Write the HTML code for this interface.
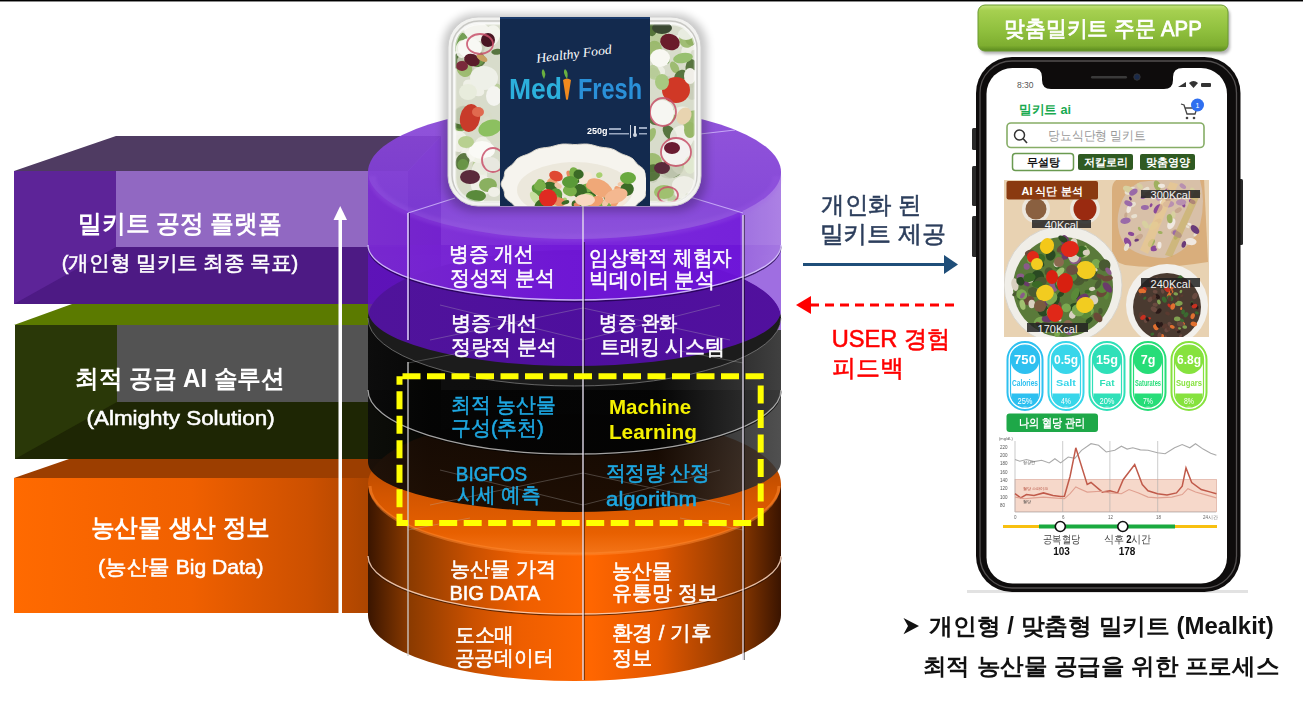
<!DOCTYPE html>
<html><head><meta charset="utf-8">
<style>
html,body{margin:0;padding:0;background:#fff;width:1303px;height:707px;overflow:hidden}
svg{display:block;font-family:"Liberation Sans",sans-serif}
</style></head>
<body>
<svg width="1303" height="707" viewBox="0 0 1303 707">
<defs>
<linearGradient id="orFront" x1="14" x2="408" y1="0" y2="0" gradientUnits="userSpaceOnUse"><stop offset="0" stop-color="#ff6a00"/><stop offset="0.45" stop-color="#f06000"/><stop offset="0.75" stop-color="#cc5000"/><stop offset="0.92" stop-color="#a84400"/><stop offset="1" stop-color="#9a3c00"/></linearGradient>
<linearGradient id="purWall" x1="368" x2="781" y1="0" y2="0" gradientUnits="userSpaceOnUse"><stop offset="0" stop-color="#7a2ad0"/><stop offset="0.45" stop-color="#7218d8"/><stop offset="0.9" stop-color="#6c12d8"/><stop offset="0.91" stop-color="#9a68de"/><stop offset="1" stop-color="#a678e2"/></linearGradient>
<linearGradient id="purWall2" x1="368" x2="781" y1="0" y2="0" gradientUnits="userSpaceOnUse"><stop offset="0" stop-color="#6410cc"/><stop offset="0.5" stop-color="#620ad0"/><stop offset="1" stop-color="#660cd0"/></linearGradient>
<linearGradient id="purTop" x1="0" x2="0" y1="105" y2="239" gradientUnits="userSpaceOnUse"><stop offset="0" stop-color="#8a48d8"/><stop offset="0.75" stop-color="#7e3cd6"/><stop offset="1" stop-color="#8646da"/></linearGradient>
<linearGradient id="blkWall" x1="368" x2="781" y1="0" y2="0" gradientUnits="userSpaceOnUse"><stop offset="0" stop-color="#0a0a0a"/><stop offset="0.15" stop-color="#040404"/><stop offset="0.7" stop-color="#030303"/><stop offset="0.86" stop-color="#202020"/><stop offset="1" stop-color="#383838"/></linearGradient>
<linearGradient id="orWall" x1="368" x2="781" y1="0" y2="0" gradientUnits="userSpaceOnUse"><stop offset="0" stop-color="#3a1500"/><stop offset="0.1" stop-color="#8a3a00"/><stop offset="0.25" stop-color="#c85000"/><stop offset="0.37" stop-color="#ee5e00"/><stop offset="0.54" stop-color="#ff6600"/><stop offset="0.7" stop-color="#e45800"/><stop offset="0.9" stop-color="#8a3800"/><stop offset="1" stop-color="#3a1400"/></linearGradient>
<linearGradient id="orTop" x1="0" x2="0" y1="414" y2="554" gradientUnits="userSpaceOnUse"><stop offset="0" stop-color="#8a3600"/><stop offset="0.55" stop-color="#d05400"/><stop offset="0.85" stop-color="#e86000"/><stop offset="1" stop-color="#f47418"/></linearGradient>
<linearGradient id="btnG" x1="0" x2="0" y1="0" y2="1"><stop offset="0" stop-color="#c4e47c"/><stop offset="0.12" stop-color="#a6d050"/><stop offset="0.55" stop-color="#90c03e"/><stop offset="0.88" stop-color="#7eae30"/><stop offset="1" stop-color="#5a8a1e"/></linearGradient>
<filter id="blur4" x="-20%" y="-20%" width="140%" height="140%"><feGaussianBlur stdDeviation="4"/></filter>
<filter id="blur1" x="-20%" y="-20%" width="140%" height="140%"><feGaussianBlur stdDeviation="0.7"/></filter>
<filter id="blur2" x="-20%" y="-20%" width="140%" height="140%"><feGaussianBlur stdDeviation="1.5"/></filter>
<clipPath id="trayClip"><rect x="455" y="24" width="240" height="178" rx="24"/></clipPath>
<clipPath id="bowlClip"><path d="M500,206 L500,178 A73,40 0 0 1 646,178 L646,206 Z"/></clipPath>
<clipPath id="foodClip"><rect x="1004" y="180" width="205" height="157"/></clipPath>
<clipPath id="screenClip"><rect x="986" y="68" width="241" height="516" rx="26"/></clipPath>
<clipPath id="lavClip"><path clip-rule="evenodd" d="M743,160 H782 V330 H743 Z M368,318 A206.5,68 0 1 0 781,318 A206.5,68 0 1 0 368,318 Z"/></clipPath>
</defs>
<rect x="0" y="0" width="1303" height="707" fill="#fff"/>
<rect x="0" y="0" width="1303" height="1" fill="#000"/>
<rect x="0" y="1" width="1303" height="1" fill="#8a8a8a"/>
<!-- ===== LEFT BOXES ===== -->
<!-- purple box -->
<polygon points="14,171 116,136 441,136 408,171" fill="#4f3b62"/>
<rect x="14" y="171" width="394" height="133" fill="#5d2498"/>
<rect x="116" y="171" width="292" height="76" fill="#9168c2"/>
<polygon points="14,304 116,247 408,247 408,304" fill="#4d1a84"/>
<polygon points="408,171 441,136 441,270 408,304" fill="#5a2290"/>
<!-- green box -->
<polygon points="14,325 72,304 441,304 408,325" fill="#5b7a00"/>
<rect x="15" y="325" width="393" height="134" fill="#2a3808"/>
<rect x="117" y="325" width="291" height="77" fill="#535353"/>
<polygon points="15,459 117,402 408,402 408,459" fill="#1e2604"/>
<polygon points="408,325 441,305 441,430 408,459" fill="#1e2200"/>
<!-- orange box -->
<polygon points="14,478 69,459 441,459 408,478" fill="#9c3e00"/>
<rect x="14" y="478" width="394" height="135" fill="url(#orFront)"/>
<polygon points="408,478 441,460 441,590 408,613" fill="#7a3000"/>
<!-- ===== CYLINDER ===== -->
<!-- orange cylinder -->
<path d="M368,484 V615 A206.5,66 0 0 0 781,615 V484 Z" fill="url(#orWall)"/>
<ellipse cx="574.5" cy="484" rx="206.5" ry="70" fill="url(#orTop)"/>
<path d="M370,486 A204.5,68 0 0 0 779,486" fill="none" stroke="#ff8a30" stroke-width="3" opacity="0.5" filter="url(#blur1)"/>
<path d="M368,556 A206.5,58 0 0 0 781,556" fill="none" stroke="#2a1000" stroke-width="1.3" opacity="0.7" transform="translate(0,1.2)"/>
<path d="M368,556 A206.5,58 0 0 0 781,556" fill="none" stroke="#ffd8c0" stroke-width="1.3" opacity="0.85"/>
<!-- black cylinder lower tier (translucent) -->
<path d="M368,390 V462 A206.5,50 0 0 0 781,462 V390 Z" fill="url(#blkWall)" opacity="0.88"/>
<!-- black upper tier -->
<path d="M368,318 V390 A206.5,64 0 0 0 781,390 V318 Z" fill="url(#blkWall)" opacity="0.96"/>
<ellipse cx="574.5" cy="318" rx="206.5" ry="68" fill="#1c1c1c"/>
<path d="M368,390 A206.5,64 0 0 0 781,390" fill="none" stroke="#000" stroke-width="1.3" opacity="0.7" transform="translate(0,1.2)"/>
<path d="M368,390 A206.5,64 0 0 0 781,390" fill="none" stroke="#bdbdbd" stroke-width="1.3" opacity="0.85"/>
<path d="M368,318 A206.5,68 0 0 0 781,318" fill="none" stroke="#9a9a9a" stroke-width="1" opacity="0.6"/>
<!-- purple cylinder lower tier (translucent) -->
<path d="M368,245 V310 A206.5,56 0 0 0 781,310 V245 Z" fill="url(#purWall2)" opacity="0.72"/>
<path d="M743,245 V330 H781 V245 Z" fill="#a070e0" clip-path="url(#lavClip)" opacity="0.95"/>
<!-- purple upper tier -->
<g opacity="0.93">
<path d="M368,172 V245 A206.5,55 0 0 0 781,245 V172 Z" fill="url(#purWall)"/>
<ellipse cx="574.5" cy="172" rx="206.5" ry="67" fill="url(#purTop)"/>
</g>
<path d="M372,176 A202.5,62 0 0 0 777,176" fill="none" stroke="#a060e8" stroke-width="8" opacity="0.22" filter="url(#blur2)"/>
<path d="M368,245 A206.5,55 0 0 0 781,245" fill="none" stroke="#1a0040" stroke-width="1.3" opacity="0.7" transform="translate(0,1.5)"/>
<path d="M368,245 A206.5,55 0 0 0 781,245" fill="none" stroke="#d8c4ff" stroke-width="1.3" opacity="0.9"/>
<!-- top-face spokes -->
<g stroke="#d8c4ff" stroke-width="1.2" fill="none" opacity="0.75">
<polyline points="408,213 455,198"/>
<polyline points="743,213 690,197"/>
<polyline points="700,134 735,130"/>
</g>
<g stroke="#bbb" stroke-width="1" fill="none" opacity="0.3">
<polyline points="408,363 480,349"/>
<polyline points="743,363 670,349"/>
<polyline points="440,305 583,340 720,305"/>
<polyline points="430,340 583,308 730,340"/>
<polyline points="408,530 470,518"/>
<polyline points="743,530 680,518"/>
<polyline points="440,470 583,505 720,470"/>
<polyline points="430,505 583,473 730,505"/>
</g>
<!-- vertical divider lines -->
<g stroke-width="1.6">
<line x1="409.2" y1="213" x2="409.2" y2="340" stroke="#1a0040" opacity="0.6"/>
<line x1="408" y1="213" x2="408" y2="340" stroke="#e8dcff" opacity="0.9"/>
<line x1="408" y1="362" x2="408" y2="656" stroke="#d0d0d0" opacity="0.8"/>
<line x1="584.2" y1="242" x2="584.2" y2="680" stroke="#000" opacity="0.45"/>
<line x1="583" y1="206" x2="583" y2="680" stroke="#e8e0f0" opacity="0.85"/>
<line x1="744.2" y1="215" x2="744.2" y2="660" stroke="#000" opacity="0.45"/>
<line x1="743" y1="215" x2="743" y2="660" stroke="#e8e0f0" opacity="0.8"/>
</g>
<!-- white arrow -->
<rect x="338.5" y="218" width="3.5" height="395" fill="#fff"/>
<polygon points="333.5,220 340.2,206 347,220" fill="#fff"/>
<!-- yellow dashed rect -->
<rect x="399.5" y="376.2" width="361.2" height="146.8" fill="none" stroke="#ffff00" stroke-width="6" stroke-dasharray="18,6.5" stroke-dashoffset="-3"/>
<!-- ===== MIDDLE ARROWS ===== -->
<line x1="803" y1="264.5" x2="946" y2="264.5" stroke="#1f4e79" stroke-width="3"/>
<polygon points="944,255 958,264.5 944,274" fill="#1f4e79"/>
<line x1="810" y1="305" x2="957" y2="305" stroke="#ff0000" stroke-width="3" stroke-dasharray="9,6"/>
<polygon points="811,296 796,305 811,314" fill="#ff0000"/>
<path d="M903.5,618 L919,626 L903.5,634.2 L908,626 Z" fill="#111"/>
<!-- ===== TRAY ===== -->
<rect x="443" y="14" width="264" height="198" rx="32" fill="#000" opacity="0.22" filter="url(#blur4)"/>
<rect x="448" y="17" width="253" height="189" rx="30" fill="#f2f2f0" stroke="#d0d0d0" stroke-width="1"/>
<rect x="452" y="21" width="245" height="181" rx="27" fill="none" stroke="#c8c8c4" stroke-width="1.5"/>
<g clip-path="url(#trayClip)">
<rect x="450" y="20" width="250" height="190" fill="#d8dccb"/>
<g filter="url(#blur1)">
<ellipse cx="469.6" cy="50.9" rx="5.5" ry="4.2" transform="rotate(66 469.6 50.9)" fill="#eef0e6" opacity="0.90" />
<ellipse cx="457.6" cy="114.3" rx="5.6" ry="4.0" transform="rotate(43 457.6 114.3)" fill="#eef0e6" opacity="0.90" />
<ellipse cx="479.8" cy="34.5" rx="11.6" ry="9.5" transform="rotate(105 479.8 34.5)" fill="#f6f6f0" opacity="0.90" />
<ellipse cx="457.8" cy="128.2" rx="11.8" ry="6.2" transform="rotate(155 457.8 128.2)" fill="#eef0e6" opacity="0.90" />
<ellipse cx="468.0" cy="49.7" rx="9.0" ry="7.0" transform="rotate(123 468.0 49.7)" fill="#f6f6f0" opacity="0.90" />
<ellipse cx="459.6" cy="125.7" rx="7.6" ry="5.9" transform="rotate(11 459.6 125.7)" fill="#b8cc98" opacity="0.90" />
<ellipse cx="457.7" cy="60.7" rx="8.0" ry="5.3" transform="rotate(105 457.7 60.7)" fill="#4a6a30" opacity="0.90" />
<ellipse cx="475.4" cy="77.4" rx="9.9" ry="6.2" transform="rotate(103 475.4 77.4)" fill="#d8dcc8" opacity="0.90" />
<ellipse cx="478.6" cy="179.8" rx="7.0" ry="6.9" transform="rotate(21 478.6 179.8)" fill="#c8ccb8" opacity="0.90" />
<ellipse cx="473.8" cy="158.8" rx="11.5" ry="8.2" transform="rotate(173 473.8 158.8)" fill="#d8dcc8" opacity="0.90" />
<ellipse cx="458.5" cy="123.3" rx="7.4" ry="5.0" transform="rotate(89 458.5 123.3)" fill="#6a9848" opacity="0.90" />
<ellipse cx="490.9" cy="36.2" rx="11.6" ry="8.6" transform="rotate(120 490.9 36.2)" fill="#f6f6f0" opacity="0.90" />
<ellipse cx="457.7" cy="148.9" rx="7.0" ry="4.8" transform="rotate(120 457.7 148.9)" fill="#c8ccb8" opacity="0.90" />
<ellipse cx="456.0" cy="106.2" rx="9.3" ry="6.9" transform="rotate(39 456.0 106.2)" fill="#d8dcc8" opacity="0.90" />
<ellipse cx="467.9" cy="155.4" rx="7.7" ry="7.2" transform="rotate(15 467.9 155.4)" fill="#f2f2ea" opacity="0.90" />
<ellipse cx="475.2" cy="121.8" rx="10.7" ry="10.0" transform="rotate(50 475.2 121.8)" fill="#d8dcc8" opacity="0.90" />
<ellipse cx="473.7" cy="87.9" rx="11.7" ry="6.7" transform="rotate(32 473.7 87.9)" fill="#f2f2ea" opacity="0.90" />
<ellipse cx="465.4" cy="65.5" rx="10.8" ry="6.4" transform="rotate(51 465.4 65.5)" fill="#c8ccb8" opacity="0.90" />
<ellipse cx="461.6" cy="119.2" rx="11.7" ry="9.9" transform="rotate(93 461.6 119.2)" fill="#6a9848" opacity="0.90" />
<ellipse cx="482.8" cy="144.4" rx="8.2" ry="7.7" transform="rotate(171 482.8 144.4)" fill="#eef0e6" opacity="0.90" />
<ellipse cx="485.6" cy="123.6" rx="7.8" ry="4.3" transform="rotate(114 485.6 123.6)" fill="#f2f2ea" opacity="0.90" />
<ellipse cx="457.8" cy="36.0" rx="8.1" ry="4.5" transform="rotate(108 457.8 36.0)" fill="#b8cc98" opacity="0.90" />
<ellipse cx="459.6" cy="124.9" rx="5.7" ry="3.9" transform="rotate(5 459.6 124.9)" fill="#4a6a30" opacity="0.90" />
<ellipse cx="494.3" cy="133.3" rx="9.4" ry="9.2" transform="rotate(108 494.3 133.3)" fill="#d8dcc8" opacity="0.90" />
<ellipse cx="476.3" cy="44.5" rx="12.0" ry="8.8" transform="rotate(87 476.3 44.5)" fill="#c8ccb8" opacity="0.90" />
<ellipse cx="458.9" cy="42.2" rx="10.2" ry="7.5" transform="rotate(125 458.9 42.2)" fill="#6a9848" opacity="0.90" />
<ellipse cx="478.2" cy="60.5" rx="7.5" ry="6.4" transform="rotate(165 478.2 60.5)" fill="#4a6a30" opacity="0.90" />
<ellipse cx="489.1" cy="77.1" rx="9.9" ry="6.2" transform="rotate(66 489.1 77.1)" fill="#f6f6f0" opacity="0.90" />
<ellipse cx="462.5" cy="161.4" rx="8.8" ry="6.6" transform="rotate(115 462.5 161.4)" fill="#4a6a30" opacity="0.90" />
<ellipse cx="482.6" cy="164.3" rx="10.6" ry="9.7" transform="rotate(133 482.6 164.3)" fill="#b8cc98" opacity="0.90" />
<ellipse cx="465.2" cy="116.1" rx="10.1" ry="10.1" transform="rotate(142 465.2 116.1)" fill="#6a9848" opacity="0.90" />
<ellipse cx="476.3" cy="58.5" rx="8.1" ry="7.9" transform="rotate(178 476.3 58.5)" fill="#6a9848" opacity="0.90" />
<ellipse cx="498.0" cy="88.9" rx="5.7" ry="4.2" transform="rotate(61 498.0 88.9)" fill="#b8cc98" opacity="0.90" />
<ellipse cx="476.7" cy="199.4" rx="8.4" ry="6.9" transform="rotate(144 476.7 199.4)" fill="#eef0e6" opacity="0.90" />
<ellipse cx="458.8" cy="141.6" rx="10.5" ry="9.2" transform="rotate(86 458.8 141.6)" fill="#f2f2ea" opacity="0.90" />
<ellipse cx="463.0" cy="164.5" rx="5.6" ry="5.5" transform="rotate(130 463.0 164.5)" fill="#6a9848" opacity="0.90" />
<ellipse cx="475.8" cy="156.3" rx="10.1" ry="5.9" transform="rotate(23 475.8 156.3)" fill="#f6f6f0" opacity="0.90" />
<ellipse cx="461.8" cy="185.1" rx="9.3" ry="7.4" transform="rotate(85 461.8 185.1)" fill="#d8dcc8" opacity="0.90" />
<ellipse cx="497.2" cy="51.8" rx="5.9" ry="3.0" transform="rotate(175 497.2 51.8)" fill="#4a6a30" opacity="0.90" />
<ellipse cx="484.2" cy="117.7" rx="8.0" ry="7.5" transform="rotate(149 484.2 117.7)" fill="#d8dcc8" opacity="0.90" />
<ellipse cx="464.5" cy="68.8" rx="8.5" ry="7.5" transform="rotate(59 464.5 68.8)" fill="#98b868" opacity="0.90" />
<ellipse cx="479.5" cy="172.5" rx="11.4" ry="7.7" transform="rotate(82 479.5 172.5)" fill="#eef0e6" opacity="0.90" />
<ellipse cx="481.3" cy="185.0" rx="10.8" ry="10.1" transform="rotate(24 481.3 185.0)" fill="#f2f2ea" opacity="0.90" />
<ellipse cx="461.8" cy="114.9" rx="10.4" ry="8.4" transform="rotate(140 461.8 114.9)" fill="#c8ccb8" opacity="0.90" />
<ellipse cx="461.7" cy="49.2" rx="8.9" ry="5.9" transform="rotate(93 461.7 49.2)" fill="#f6f6f0" opacity="0.90" />
<ellipse cx="675.0" cy="163.6" rx="11.2" ry="5.9" transform="rotate(34 675.0 163.6)" fill="#f6f6f0" opacity="0.90" />
<ellipse cx="651.9" cy="41.4" rx="8.9" ry="7.9" transform="rotate(164 651.9 41.4)" fill="#c8ccb8" opacity="0.90" />
<ellipse cx="669.9" cy="133.0" rx="9.2" ry="5.5" transform="rotate(50 669.9 133.0)" fill="#4a6a30" opacity="0.90" />
<ellipse cx="672.9" cy="167.7" rx="11.6" ry="9.8" transform="rotate(158 672.9 167.7)" fill="#4a6a30" opacity="0.90" />
<ellipse cx="692.4" cy="70.2" rx="11.2" ry="6.8" transform="rotate(81 692.4 70.2)" fill="#4a6a30" opacity="0.90" />
<ellipse cx="668.7" cy="93.8" rx="5.5" ry="3.4" transform="rotate(13 668.7 93.8)" fill="#6a9848" opacity="0.90" />
<ellipse cx="680.1" cy="163.5" rx="11.6" ry="9.5" transform="rotate(66 680.1 163.5)" fill="#d8dcc8" opacity="0.90" />
<ellipse cx="661.4" cy="48.4" rx="6.5" ry="6.4" transform="rotate(72 661.4 48.4)" fill="#c8ccb8" opacity="0.90" />
<ellipse cx="671.9" cy="200.2" rx="6.1" ry="4.4" transform="rotate(93 671.9 200.2)" fill="#b8cc98" opacity="0.90" />
<ellipse cx="665.3" cy="58.8" rx="5.6" ry="3.9" transform="rotate(61 665.3 58.8)" fill="#6a9848" opacity="0.90" />
<ellipse cx="670.6" cy="149.2" rx="7.3" ry="5.9" transform="rotate(92 670.6 149.2)" fill="#f2f2ea" opacity="0.90" />
<ellipse cx="652.9" cy="199.3" rx="11.8" ry="6.5" transform="rotate(48 652.9 199.3)" fill="#b8cc98" opacity="0.90" />
<ellipse cx="651.8" cy="162.7" rx="10.3" ry="9.4" transform="rotate(153 651.8 162.7)" fill="#98b868" opacity="0.90" />
<ellipse cx="680.4" cy="192.4" rx="6.0" ry="5.8" transform="rotate(103 680.4 192.4)" fill="#f2f2ea" opacity="0.90" />
<ellipse cx="681.5" cy="39.9" rx="10.6" ry="6.3" transform="rotate(161 681.5 39.9)" fill="#eef0e6" opacity="0.90" />
<ellipse cx="662.1" cy="27.0" rx="10.6" ry="5.8" transform="rotate(154 662.1 27.0)" fill="#f6f6f0" opacity="0.90" />
<ellipse cx="653.0" cy="177.6" rx="5.1" ry="5.1" transform="rotate(75 653.0 177.6)" fill="#c8ccb8" opacity="0.90" />
<ellipse cx="691.2" cy="134.7" rx="8.7" ry="5.4" transform="rotate(20 691.2 134.7)" fill="#eef0e6" opacity="0.90" />
<ellipse cx="657.3" cy="33.0" rx="11.5" ry="9.4" transform="rotate(96 657.3 33.0)" fill="#b8cc98" opacity="0.90" />
<ellipse cx="659.3" cy="103.3" rx="6.9" ry="6.2" transform="rotate(179 659.3 103.3)" fill="#d8dcc8" opacity="0.90" />
<ellipse cx="651.7" cy="27.3" rx="8.9" ry="5.3" transform="rotate(85 651.7 27.3)" fill="#4a6a30" opacity="0.90" />
<ellipse cx="692.1" cy="42.9" rx="9.6" ry="7.4" transform="rotate(160 692.1 42.9)" fill="#f2f2ea" opacity="0.90" />
<ellipse cx="693.7" cy="78.8" rx="11.9" ry="8.0" transform="rotate(150 693.7 78.8)" fill="#b8cc98" opacity="0.90" />
<ellipse cx="681.8" cy="137.2" rx="11.9" ry="11.8" transform="rotate(151 681.8 137.2)" fill="#f2f2ea" opacity="0.90" />
<ellipse cx="650.6" cy="135.3" rx="8.0" ry="4.2" transform="rotate(120 650.6 135.3)" fill="#98b868" opacity="0.90" />
<ellipse cx="667.1" cy="114.1" rx="9.2" ry="7.8" transform="rotate(8 667.1 114.1)" fill="#98b868" opacity="0.90" />
<ellipse cx="658.3" cy="71.9" rx="6.8" ry="6.7" transform="rotate(175 658.3 71.9)" fill="#eef0e6" opacity="0.90" />
<ellipse cx="674.6" cy="67.5" rx="6.5" ry="3.9" transform="rotate(60 674.6 67.5)" fill="#98b868" opacity="0.90" />
<ellipse cx="653.8" cy="73.6" rx="6.7" ry="6.0" transform="rotate(16 653.8 73.6)" fill="#b8cc98" opacity="0.90" />
<ellipse cx="686.8" cy="49.6" rx="7.8" ry="5.0" transform="rotate(113 686.8 49.6)" fill="#eef0e6" opacity="0.90" />
<ellipse cx="653.8" cy="194.5" rx="9.6" ry="8.2" transform="rotate(158 653.8 194.5)" fill="#d8dcc8" opacity="0.90" />
<ellipse cx="667.5" cy="82.1" rx="6.0" ry="5.2" transform="rotate(116 667.5 82.1)" fill="#c8ccb8" opacity="0.90" />
<ellipse cx="652.0" cy="172.7" rx="9.4" ry="8.1" transform="rotate(146 652.0 172.7)" fill="#4a6a30" opacity="0.90" />
<ellipse cx="656.3" cy="117.2" rx="9.0" ry="8.1" transform="rotate(3 656.3 117.2)" fill="#4a6a30" opacity="0.90" />
<ellipse cx="680.9" cy="166.0" rx="5.6" ry="2.9" transform="rotate(115 680.9 166.0)" fill="#b8cc98" opacity="0.90" />
<ellipse cx="693.2" cy="91.0" rx="8.9" ry="7.3" transform="rotate(113 693.2 91.0)" fill="#c8ccb8" opacity="0.90" />
<ellipse cx="680.6" cy="111.1" rx="8.2" ry="4.4" transform="rotate(168 680.6 111.1)" fill="#eef0e6" opacity="0.90" />
<ellipse cx="690.4" cy="40.4" rx="5.5" ry="4.7" transform="rotate(45 690.4 40.4)" fill="#4a6a30" opacity="0.90" />
<ellipse cx="653.4" cy="71.3" rx="6.6" ry="5.5" transform="rotate(83 653.4 71.3)" fill="#b8cc98" opacity="0.90" />
<ellipse cx="688.0" cy="37.7" rx="10.4" ry="8.4" transform="rotate(116 688.0 37.7)" fill="#98b868" opacity="0.90" />
<ellipse cx="653.5" cy="50.2" rx="9.6" ry="8.1" transform="rotate(112 653.5 50.2)" fill="#98b868" opacity="0.90" />
<ellipse cx="656.0" cy="109.9" rx="6.9" ry="5.8" transform="rotate(125 656.0 109.9)" fill="#c8ccb8" opacity="0.90" />
<ellipse cx="680.4" cy="75.8" rx="7.0" ry="5.1" transform="rotate(138 680.4 75.8)" fill="#4a6a30" opacity="0.90" />
<ellipse cx="694.7" cy="121.7" rx="11.8" ry="11.5" transform="rotate(3 694.7 121.7)" fill="#98b868" opacity="0.90" />
<ellipse cx="670.7" cy="169.9" rx="12.0" ry="8.3" transform="rotate(165 670.7 169.9)" fill="#c8ccb8" opacity="0.90" />
<ellipse cx="478.0" cy="32.0" rx="14.0" ry="9.0" transform="rotate(10 478.0 32.0)" fill="#f4f4ee" opacity="1.00" />
<ellipse cx="470.0" cy="48.0" rx="12.0" ry="10.0" transform="rotate(0 470.0 48.0)" fill="#f8f8f4" opacity="1.00" />
<ellipse cx="488.0" cy="40.0" rx="7.0" ry="7.0" transform="rotate(0 488.0 40.0)" fill="#4a1424" opacity="1.00" />
<ellipse cx="472.0" cy="60.0" rx="8.0" ry="6.0" transform="rotate(20 472.0 60.0)" fill="#5a1a2a" opacity="1.00" />
<ellipse cx="462.0" cy="66.0" rx="6.0" ry="5.0" transform="rotate(0 462.0 66.0)" fill="#7a2a3a" opacity="1.00" />
<ellipse cx="484.0" cy="78.0" rx="14.0" ry="12.0" transform="rotate(0 484.0 78.0)" fill="#eef0e8" opacity="1.00" />
<ellipse cx="468.0" cy="92.0" rx="9.0" ry="8.0" transform="rotate(0 468.0 92.0)" fill="#e8ecdc" opacity="1.00" />
<ellipse cx="494.0" cy="96.0" rx="8.0" ry="10.0" transform="rotate(0 494.0 96.0)" fill="#f4f4f0" opacity="1.00" />
<ellipse cx="482.0" cy="58.0" rx="6.0" ry="3.0" transform="rotate(30 482.0 58.0)" fill="#c8a060" opacity="1.00" />
<ellipse cx="470.0" cy="118.0" rx="10.0" ry="14.0" transform="rotate(10 470.0 118.0)" fill="#c83a2a" opacity="1.00" />
<ellipse cx="490.0" cy="128.0" rx="12.0" ry="8.0" transform="rotate(-20 490.0 128.0)" fill="#8cc060" opacity="1.00" />
<ellipse cx="478.0" cy="112.0" rx="6.0" ry="5.0" transform="rotate(0 478.0 112.0)" fill="#e06a50" opacity="1.00" />
<ellipse cx="482.0" cy="150.0" rx="13.0" ry="9.0" transform="rotate(0 482.0 150.0)" fill="#fafaf6" opacity="1.00" />
<ellipse cx="466.0" cy="142.0" rx="8.0" ry="6.0" transform="rotate(0 466.0 142.0)" fill="#b8d090" opacity="1.00" />
<ellipse cx="490.0" cy="165.0" rx="10.0" ry="8.0" transform="rotate(0 490.0 165.0)" fill="#e8e8e0" opacity="1.00" />
<ellipse cx="470.0" cy="177.0" rx="10.0" ry="7.0" transform="rotate(0 470.0 177.0)" fill="#5a2a3a" opacity="1.00" />
<ellipse cx="488.0" cy="185.0" rx="9.0" ry="7.0" transform="rotate(0 488.0 185.0)" fill="#8ab060" opacity="1.00" />
<ellipse cx="476.0" cy="196.0" rx="10.0" ry="6.0" transform="rotate(0 476.0 196.0)" fill="#5a8a3a" opacity="1.00" />
<ellipse cx="494.0" cy="192.0" rx="6.0" ry="5.0" transform="rotate(0 494.0 192.0)" fill="#f0f0e8" opacity="1.00" />
<ellipse cx="662.0" cy="28.0" rx="10.0" ry="6.0" transform="rotate(0 662.0 28.0)" fill="#3a4a30" opacity="1.00" />
<ellipse cx="670.0" cy="42.0" rx="10.0" ry="8.0" transform="rotate(20 670.0 42.0)" fill="#6a1a2a" opacity="1.00" />
<ellipse cx="686.0" cy="34.0" rx="8.0" ry="6.0" transform="rotate(0 686.0 34.0)" fill="#e8ece0" opacity="1.00" />
<ellipse cx="660.0" cy="58.0" rx="10.0" ry="9.0" transform="rotate(0 660.0 58.0)" fill="#f8f8f2" opacity="1.00" />
<ellipse cx="683.0" cy="58.0" rx="10.0" ry="5.0" transform="rotate(-10 683.0 58.0)" fill="#98c070" opacity="1.00" />
<ellipse cx="676.0" cy="90.0" rx="14.0" ry="13.0" transform="rotate(0 676.0 90.0)" fill="#d03828" opacity="1.00" />
<ellipse cx="662.0" cy="82.0" rx="7.0" ry="8.0" transform="rotate(0 662.0 82.0)" fill="#a8c880" opacity="1.00" />
<ellipse cx="690.0" cy="76.0" rx="6.0" ry="8.0" transform="rotate(0 690.0 76.0)" fill="#f0eee8" opacity="1.00" />
<ellipse cx="662.0" cy="113.0" rx="12.0" ry="13.0" transform="rotate(0 662.0 113.0)" fill="#f6f6f2" opacity="1.00" />
<ellipse cx="684.0" cy="116.0" rx="7.0" ry="9.0" transform="rotate(30 684.0 116.0)" fill="#e8d4b0" opacity="1.00" />
<ellipse cx="690.0" cy="130.0" rx="6.0" ry="8.0" transform="rotate(0 690.0 130.0)" fill="#98b868" opacity="1.00" />
<ellipse cx="676.0" cy="152.0" rx="15.0" ry="13.0" transform="rotate(0 676.0 152.0)" fill="#f4f2f0" opacity="1.00" />
<ellipse cx="672.0" cy="148.0" rx="8.0" ry="6.0" transform="rotate(0 672.0 148.0)" fill="#6a1a30" opacity="1.00" />
<ellipse cx="662.0" cy="168.0" rx="8.0" ry="6.0" transform="rotate(0 662.0 168.0)" fill="#5a2a3a" opacity="1.00" />
<ellipse cx="684.0" cy="185.0" rx="12.0" ry="9.0" transform="rotate(0 684.0 185.0)" fill="#eeeee6" opacity="1.00" />
<ellipse cx="664.0" cy="192.0" rx="10.0" ry="7.0" transform="rotate(0 664.0 192.0)" fill="#a0c070" opacity="1.00" />
<ellipse cx="690.0" cy="165.0" rx="6.0" ry="9.0" transform="rotate(0 690.0 165.0)" fill="#e0e8d0" opacity="1.00" />
</g>
<ellipse cx="480" cy="44" rx="13" ry="10" fill="none" stroke="#c8506a" stroke-width="1.8" opacity="0.85"/>
<ellipse cx="493" cy="160" rx="11" ry="12" fill="none" stroke="#c8506a" stroke-width="1.8" opacity="0.85"/>
<ellipse cx="663" cy="112" rx="13" ry="14" fill="none" stroke="#c8506a" stroke-width="1.8" opacity="0.85"/>
<ellipse cx="676" cy="152" rx="15" ry="14" fill="none" stroke="#c8506a" stroke-width="1.8" opacity="0.85"/>
<ellipse cx="668" cy="195" rx="10" ry="8" fill="none" stroke="#c8506a" stroke-width="1.8" opacity="0.85"/>
</g>
<rect x="455" y="24" width="240" height="178" rx="24" fill="none" stroke="#ffffff" stroke-width="2.5" opacity="0.55"/>
<rect x="500" y="17" width="150" height="189" fill="#132a4e"/>
<rect x="500" y="17" width="150" height="2" fill="#1a3a6a"/>
<text x="536" y="58" fill="#fff" font-size="13" font-style="italic" font-family="Liberation Serif, serif" textLength="76" lengthAdjust="spacingAndGlyphs" transform="rotate(-7 575 55)">Healthy Food</text>
<text x="509" y="99" fill="#2cb0dc" font-size="29" font-weight="bold" textLength="53" lengthAdjust="spacingAndGlyphs">Med</text>
<path d="M563,80 Q567,77 571,80 L568,99 Q567,101 566,99 Z" fill="#f08a1e"/>
<path d="M567,79 Q562,72 565,69 Q569,72 567,79 Z" fill="#6ab040"/>
<path d="M544,79 Q540,72 543,69 Q547,73 544,79 Z" fill="#6ab040"/>
<text x="578" y="99" fill="#2a90d8" font-size="29" font-weight="bold" textLength="64" lengthAdjust="spacingAndGlyphs">Fresh</text>
<text x="587" y="134" fill="#fff" font-size="9" font-weight="bold">250g</text>
<rect x="609" y="128" width="12" height="2" fill="#9aa8c0"/><rect x="609" y="133" width="20" height="1.5" fill="#9aa8c0"/>
<rect x="630" y="125" width="1" height="13" fill="#cfd6e0"/><circle cx="635" cy="135" r="2" fill="#cfd6e0"/><rect x="634" y="126" width="2" height="9" fill="#cfd6e0"/><rect x="639" y="127" width="8" height="2" fill="#9aa8c0"/><rect x="639" y="133" width="8" height="1.5" fill="#9aa8c0"/>
<g clip-path="url(#bowlClip)">
<polygon points="648.9,184.0 648.7,185.4 648.1,186.8 647.3,188.2 646.6,189.5 646.0,190.9 645.7,192.2 645.6,193.6 645.4,195.1 645.1,196.5 644.4,197.8 643.3,199.1 641.9,200.3 640.4,201.5 638.8,202.6 637.5,203.8 636.3,205.0 635.3,206.3 634.3,207.6 633.1,208.9 631.6,210.0 629.8,211.0 627.7,211.9 625.5,212.7 623.4,213.4 621.4,214.3 619.5,215.2 617.7,216.2 616.0,217.3 614.1,218.3 611.9,219.1 609.6,219.7 607.1,220.1 604.6,220.4 602.1,220.7 599.7,221.1 597.3,221.7 595.0,222.3 592.7,223.0 590.3,223.5 587.8,223.9 585.3,224.0 582.7,223.9 580.1,223.8 577.5,223.6 575.0,223.5 572.5,223.6 569.9,223.8 567.3,223.9 564.7,224.0 562.2,223.9 559.7,223.5 557.3,223.0 555.0,222.3 552.7,221.7 550.3,221.1 547.9,220.7 545.4,220.4 542.9,220.1 540.4,219.7 538.1,219.1 535.9,218.3 534.0,217.3 532.3,216.2 530.5,215.2 528.6,214.3 526.6,213.4 524.5,212.7 522.3,211.9 520.2,211.0 518.4,210.0 516.9,208.9 515.7,207.6 514.7,206.3 513.7,205.0 512.5,203.8 511.2,202.6 509.6,201.5 508.1,200.3 506.7,199.1 505.6,197.8 504.9,196.5 504.6,195.1 504.4,193.6 504.3,192.2 504.0,190.9 503.4,189.5 502.7,188.2 501.9,186.8 501.3,185.4 501.1,184.0 501.3,182.6 501.9,181.2 502.7,179.8 503.4,178.5 504.0,177.1 504.3,175.8 504.4,174.4 504.6,172.9 504.9,171.5 505.6,170.2 506.7,168.9 508.1,167.7 509.6,166.5 511.2,165.4 512.5,164.2 513.7,163.0 514.7,161.7 515.7,160.4 516.9,159.1 518.4,158.0 520.2,157.0 522.3,156.1 524.5,155.3 526.6,154.6 528.6,153.7 530.5,152.8 532.3,151.8 534.0,150.7 535.9,149.7 538.1,148.9 540.4,148.3 542.9,147.9 545.4,147.6 547.9,147.3 550.3,146.9 552.7,146.3 555.0,145.7 557.3,145.0 559.7,144.5 562.2,144.1 564.7,144.0 567.3,144.1 569.9,144.2 572.5,144.4 575.0,144.5 577.5,144.4 580.1,144.2 582.7,144.1 585.3,144.0 587.8,144.1 590.3,144.5 592.7,145.0 595.0,145.7 597.3,146.3 599.7,146.9 602.1,147.3 604.6,147.6 607.1,147.9 609.6,148.3 611.9,148.9 614.1,149.7 616.0,150.7 617.7,151.8 619.5,152.8 621.4,153.7 623.4,154.6 625.5,155.3 627.7,156.1 629.8,157.0 631.6,158.0 633.1,159.1 634.3,160.4 635.3,161.7 636.3,163.0 637.5,164.2 638.8,165.4 640.4,166.5 641.9,167.7 643.3,168.9 644.4,170.2 645.1,171.5 645.4,172.9 645.6,174.4 645.7,175.8 646.0,177.1 646.6,178.5 647.3,179.8 648.1,181.2 648.7,182.6 648.9,184.0" fill="#f6f4ee" stroke="#ddd8cc" stroke-width="1"/>
<ellipse cx="575" cy="190" rx="58" ry="28" fill="#ece8dc"/>
<g filter="url(#blur1)">
<ellipse cx="592.4" cy="192.5" rx="3.7" ry="2.8" transform="rotate(171 592.4 192.5)" fill="#5a9a38" opacity="1.00" />
<ellipse cx="610.5" cy="209.7" rx="4.4" ry="2.4" transform="rotate(66 610.5 209.7)" fill="#f2c8a8" opacity="1.00" />
<ellipse cx="533.2" cy="195.3" rx="3.1" ry="1.6" transform="rotate(89 533.2 195.3)" fill="#3a6a28" opacity="1.00" />
<ellipse cx="553.8" cy="198.7" rx="5.1" ry="3.5" transform="rotate(22 553.8 198.7)" fill="#a8d070" opacity="1.00" />
<ellipse cx="566.1" cy="205.9" rx="7.2" ry="4.0" transform="rotate(167 566.1 205.9)" fill="#f6e8d8" opacity="1.00" />
<ellipse cx="569.1" cy="174.7" rx="4.3" ry="2.3" transform="rotate(70 569.1 174.7)" fill="#e88a60" opacity="1.00" />
<ellipse cx="589.5" cy="190.6" rx="6.8" ry="6.3" transform="rotate(51 589.5 190.6)" fill="#3a6a28" opacity="1.00" />
<ellipse cx="618.6" cy="200.7" rx="4.2" ry="2.7" transform="rotate(92 618.6 200.7)" fill="#a8d070" opacity="1.00" />
<ellipse cx="591.3" cy="207.5" rx="7.4" ry="6.7" transform="rotate(114 591.3 207.5)" fill="#3a6a28" opacity="1.00" />
<ellipse cx="621.5" cy="184.0" rx="4.0" ry="2.2" transform="rotate(168 621.5 184.0)" fill="#f2c8a8" opacity="1.00" />
<ellipse cx="546.8" cy="204.2" rx="6.2" ry="4.0" transform="rotate(9 546.8 204.2)" fill="#a8d070" opacity="1.00" />
<ellipse cx="596.0" cy="191.5" rx="5.1" ry="3.3" transform="rotate(46 596.0 191.5)" fill="#c8e0a0" opacity="1.00" />
<ellipse cx="577.1" cy="177.3" rx="6.3" ry="4.1" transform="rotate(100 577.1 177.3)" fill="#3a6a28" opacity="1.00" />
<ellipse cx="563.9" cy="200.5" rx="3.4" ry="2.5" transform="rotate(146 563.9 200.5)" fill="#a8d070" opacity="1.00" />
<ellipse cx="548.0" cy="190.4" rx="8.0" ry="5.8" transform="rotate(25 548.0 190.4)" fill="#f6e8d8" opacity="1.00" />
<ellipse cx="585.3" cy="201.2" rx="5.8" ry="3.8" transform="rotate(66 585.3 201.2)" fill="#f6e8d8" opacity="1.00" />
<ellipse cx="588.2" cy="185.8" rx="6.7" ry="4.8" transform="rotate(74 588.2 185.8)" fill="#7ab048" opacity="1.00" />
<ellipse cx="549.7" cy="193.0" rx="6.8" ry="5.1" transform="rotate(103 549.7 193.0)" fill="#f6e8d8" opacity="1.00" />
<ellipse cx="553.6" cy="209.0" rx="6.1" ry="5.7" transform="rotate(39 553.6 209.0)" fill="#f2c8a8" opacity="1.00" />
<ellipse cx="576.7" cy="205.9" rx="6.2" ry="4.5" transform="rotate(56 576.7 205.9)" fill="#3a6a28" opacity="1.00" />
<ellipse cx="599.3" cy="175.1" rx="3.2" ry="2.7" transform="rotate(161 599.3 175.1)" fill="#a8d070" opacity="1.00" />
<ellipse cx="542.2" cy="197.8" rx="3.4" ry="3.2" transform="rotate(167 542.2 197.8)" fill="#7ab048" opacity="1.00" />
<ellipse cx="546.3" cy="192.4" rx="4.2" ry="2.4" transform="rotate(28 546.3 192.4)" fill="#c8e0a0" opacity="1.00" />
<ellipse cx="539.1" cy="192.5" rx="3.4" ry="3.0" transform="rotate(0 539.1 192.5)" fill="#c8e0a0" opacity="1.00" />
<ellipse cx="606.6" cy="206.8" rx="6.2" ry="4.1" transform="rotate(23 606.6 206.8)" fill="#7ab048" opacity="1.00" />
<ellipse cx="579.6" cy="212.5" rx="3.5" ry="2.3" transform="rotate(170 579.6 212.5)" fill="#5a9a38" opacity="1.00" />
<ellipse cx="589.1" cy="205.5" rx="3.1" ry="2.0" transform="rotate(83 589.1 205.5)" fill="#7ab048" opacity="1.00" />
<ellipse cx="618.8" cy="190.5" rx="5.4" ry="3.3" transform="rotate(44 618.8 190.5)" fill="#f0a070" opacity="1.00" />
<ellipse cx="620.7" cy="190.5" rx="3.3" ry="2.0" transform="rotate(159 620.7 190.5)" fill="#e88a60" opacity="1.00" />
<ellipse cx="571.4" cy="190.0" rx="6.3" ry="6.1" transform="rotate(41 571.4 190.0)" fill="#f0a070" opacity="1.00" />
<ellipse cx="608.4" cy="197.7" rx="4.8" ry="3.4" transform="rotate(1 608.4 197.7)" fill="#3a6a28" opacity="1.00" />
<ellipse cx="568.0" cy="214.5" rx="4.0" ry="4.0" transform="rotate(56 568.0 214.5)" fill="#5a9a38" opacity="1.00" />
<ellipse cx="590.2" cy="185.4" rx="4.3" ry="4.1" transform="rotate(20 590.2 185.4)" fill="#f0a070" opacity="1.00" />
<ellipse cx="552.1" cy="183.0" rx="5.4" ry="5.2" transform="rotate(10 552.1 183.0)" fill="#f0a070" opacity="1.00" />
<ellipse cx="540.3" cy="183.1" rx="4.1" ry="4.0" transform="rotate(26 540.3 183.1)" fill="#7ab048" opacity="1.00" />
<ellipse cx="591.6" cy="196.7" rx="5.2" ry="4.5" transform="rotate(57 591.6 196.7)" fill="#3a6a28" opacity="1.00" />
<ellipse cx="590.7" cy="199.0" rx="4.6" ry="2.8" transform="rotate(168 590.7 199.0)" fill="#a8d070" opacity="1.00" />
<ellipse cx="579.8" cy="191.1" rx="7.2" ry="7.1" transform="rotate(80 579.8 191.1)" fill="#3a6a28" opacity="1.00" />
<ellipse cx="590.8" cy="198.9" rx="4.8" ry="4.7" transform="rotate(22 590.8 198.9)" fill="#5a9a38" opacity="1.00" />
<ellipse cx="602.2" cy="192.8" rx="6.8" ry="4.5" transform="rotate(145 602.2 192.8)" fill="#f6e8d8" opacity="1.00" />
<ellipse cx="615.8" cy="204.7" rx="4.9" ry="4.7" transform="rotate(35 615.8 204.7)" fill="#f0a070" opacity="1.00" />
<ellipse cx="548.9" cy="210.7" rx="6.2" ry="3.8" transform="rotate(113 548.9 210.7)" fill="#7ab048" opacity="1.00" />
<ellipse cx="554.7" cy="202.6" rx="3.3" ry="3.2" transform="rotate(46 554.7 202.6)" fill="#c8e0a0" opacity="1.00" />
<ellipse cx="579.2" cy="174.1" rx="4.8" ry="3.2" transform="rotate(172 579.2 174.1)" fill="#f6e8d8" opacity="1.00" />
<ellipse cx="621.6" cy="200.1" rx="7.6" ry="4.9" transform="rotate(130 621.6 200.1)" fill="#f6e8d8" opacity="1.00" />
<ellipse cx="543.0" cy="183.8" rx="3.1" ry="1.9" transform="rotate(86 543.0 183.8)" fill="#5a9a38" opacity="1.00" />
<ellipse cx="627.0" cy="189.2" rx="6.9" ry="6.6" transform="rotate(147 627.0 189.2)" fill="#3a6a28" opacity="1.00" />
<ellipse cx="603.7" cy="206.5" rx="7.0" ry="6.1" transform="rotate(148 603.7 206.5)" fill="#7ab048" opacity="1.00" />
<ellipse cx="585.6" cy="178.0" rx="7.3" ry="5.3" transform="rotate(141 585.6 178.0)" fill="#f6e8d8" opacity="1.00" />
<ellipse cx="550.5" cy="186.1" rx="6.8" ry="4.2" transform="rotate(12 550.5 186.1)" fill="#3a6a28" opacity="1.00" />
<ellipse cx="616.3" cy="198.5" rx="3.8" ry="2.7" transform="rotate(19 616.3 198.5)" fill="#f6e8d8" opacity="1.00" />
<ellipse cx="615.5" cy="202.6" rx="3.5" ry="2.6" transform="rotate(128 615.5 202.6)" fill="#f0a070" opacity="1.00" />
<ellipse cx="557.1" cy="198.5" rx="5.3" ry="5.0" transform="rotate(42 557.1 198.5)" fill="#3a6a28" opacity="1.00" />
<ellipse cx="537.3" cy="190.4" rx="6.9" ry="4.5" transform="rotate(50 537.3 190.4)" fill="#5a9a38" opacity="1.00" />
<ellipse cx="577.2" cy="206.0" rx="4.0" ry="2.5" transform="rotate(44 577.2 206.0)" fill="#e88a60" opacity="1.00" />
<ellipse cx="606.8" cy="212.0" rx="4.6" ry="3.2" transform="rotate(179 606.8 212.0)" fill="#f0a070" opacity="1.00" />
<ellipse cx="556.0" cy="194.5" rx="6.3" ry="6.2" transform="rotate(18 556.0 194.5)" fill="#5a9a38" opacity="1.00" />
<ellipse cx="535.3" cy="198.1" rx="7.6" ry="3.9" transform="rotate(53 535.3 198.1)" fill="#c8e0a0" opacity="1.00" />
<ellipse cx="595.9" cy="201.5" rx="7.7" ry="5.2" transform="rotate(156 595.9 201.5)" fill="#f0a070" opacity="1.00" />
<ellipse cx="555.8" cy="198.5" rx="3.5" ry="2.8" transform="rotate(112 555.8 198.5)" fill="#7ab048" opacity="1.00" />
<ellipse cx="586.1" cy="208.1" rx="3.2" ry="3.2" transform="rotate(7 586.1 208.1)" fill="#a8d070" opacity="1.00" />
<ellipse cx="574.7" cy="174.1" rx="7.1" ry="5.0" transform="rotate(67 574.7 174.1)" fill="#7ab048" opacity="1.00" />
<ellipse cx="569.9" cy="190.8" rx="7.0" ry="5.4" transform="rotate(11 569.9 190.8)" fill="#7ab048" opacity="1.00" />
<ellipse cx="605.3" cy="203.2" rx="3.8" ry="2.9" transform="rotate(118 605.3 203.2)" fill="#f2c8a8" opacity="1.00" />
<ellipse cx="559.2" cy="201.9" rx="6.3" ry="4.5" transform="rotate(9 559.2 201.9)" fill="#e88a60" opacity="1.00" />
<ellipse cx="578.6" cy="174.3" rx="5.1" ry="4.7" transform="rotate(179 578.6 174.3)" fill="#3a6a28" opacity="1.00" />
<ellipse cx="565.4" cy="202.4" rx="4.0" ry="2.0" transform="rotate(162 565.4 202.4)" fill="#3a6a28" opacity="1.00" />
<ellipse cx="539.8" cy="204.2" rx="5.9" ry="4.0" transform="rotate(139 539.8 204.2)" fill="#3a6a28" opacity="1.00" />
<ellipse cx="587.8" cy="198.6" rx="6.2" ry="5.9" transform="rotate(16 587.8 198.6)" fill="#a8d070" opacity="1.00" />
<ellipse cx="558.1" cy="185.7" rx="3.9" ry="2.6" transform="rotate(29 558.1 185.7)" fill="#f2c8a8" opacity="1.00" />
<ellipse cx="548.0" cy="198.0" rx="9.0" ry="9.0" transform="rotate(0 548.0 198.0)" fill="#e02a20" opacity="1.00" />
<ellipse cx="556.0" cy="176.0" rx="7.0" ry="5.0" transform="rotate(20 556.0 176.0)" fill="#e04a30" opacity="1.00" />
<ellipse cx="600.0" cy="188.0" rx="14.0" ry="8.0" transform="rotate(30 600.0 188.0)" fill="#f0a878" opacity="1.00" />
<ellipse cx="616.0" cy="196.0" rx="12.0" ry="7.0" transform="rotate(-20 616.0 196.0)" fill="#f4b890" opacity="1.00" />
<ellipse cx="585.0" cy="200.0" rx="10.0" ry="6.0" transform="rotate(0 585.0 200.0)" fill="#f8d8c0" opacity="1.00" />
<ellipse cx="570.0" cy="182.0" rx="8.0" ry="6.0" transform="rotate(0 570.0 182.0)" fill="#5a9a38" opacity="1.00" />
<ellipse cx="628.0" cy="178.0" rx="8.0" ry="6.0" transform="rotate(0 628.0 178.0)" fill="#6aaa40" opacity="1.00" />
<ellipse cx="540.0" cy="186.0" rx="6.0" ry="5.0" transform="rotate(0 540.0 186.0)" fill="#7ab048" opacity="1.00" />
</g>
</g>
<!-- ===== APP BUTTON ===== -->
<rect x="980" y="8" width="250" height="46" rx="7" fill="#000" opacity="0.3" filter="url(#blur2)"/>
<rect x="978" y="5" width="250" height="46" rx="7" fill="url(#btnG)" stroke="#6a9a30" stroke-width="1"/>
<!-- ===== PHONE ===== -->
<rect x="967" y="590" width="281" height="3" fill="#e2e2e2"/>
<rect x="972" y="128" width="6" height="22" rx="1.5" fill="#2a2a2a"/>
<rect x="972" y="166" width="6" height="40" rx="1.5" fill="#2a2a2a"/>
<rect x="972" y="216" width="6" height="41" rx="1.5" fill="#2a2a2a"/>
<rect x="1238" y="179" width="5" height="66" rx="1.5" fill="#2a2a2a"/>
<rect x="976" y="57" width="264.5" height="535" rx="36" fill="#0e0c0c"/>
<rect x="980" y="61" width="256.5" height="527" rx="32" fill="none" stroke="#6a6666" stroke-width="1.3" opacity="0.75"/>
<rect x="986.5" y="68" width="240.5" height="515.5" rx="26" fill="#fff"/>
<path d="M1032,68 Q1042,68 1042,77 L1042,80 Q1042,89 1051,89 L1164,89 Q1173,89 1173,80 L1173,77 Q1173,68 1183,68 Z" fill="#0e0c0c"/>
<rect x="1091" y="76" width="36" height="2.5" rx="1.2" fill="#3a3a3a"/>
<circle cx="1137" cy="77" r="3.2" fill="#1a2a4a" stroke="#333" stroke-width="1"/>
<!-- ===== SCREEN ===== -->
<text x="1017" y="88" fill="#555" font-size="8.5">8:30</text>
<path d="M1178,87 L1186,82 L1186,87 Z" fill="#333"/>
<path d="M1189,83 Q1193.5,79 1198,83 L1193.5,88 Z" fill="#333"/>
<rect x="1201" y="83" width="10" height="4" rx="1" fill="#333"/>
<text x="1019" y="114" fill="#1aaa50" font-size="13" font-weight="bold" textLength="52" lengthAdjust="spacingAndGlyphs">밀키트 ai</text>
<g fill="none" stroke="#444" stroke-width="1.3"><path d="M1181,104 L1184,105 L1187,114 L1195,114 L1197,108 L1185,108"/></g>
<circle cx="1187" cy="118" r="1.3" fill="#444"/><circle cx="1194" cy="118" r="1.3" fill="#444"/>
<circle cx="1197.5" cy="105" r="6.5" fill="#2f6ff0"/>
<text x="1197.5" y="108" text-anchor="middle" fill="#fff" font-size="7">1</text>
<rect x="1007" y="123" width="197" height="24.5" rx="4" fill="#fff" stroke="#86ad66" stroke-width="1.6"/>
<circle cx="1019.5" cy="135" r="5" fill="none" stroke="#333" stroke-width="1.5"/>
<line x1="1023" y1="138.5" x2="1027" y2="143" stroke="#333" stroke-width="1.6"/>
<text x="1048" y="140" fill="#999" font-size="12.5" textLength="98" lengthAdjust="spacingAndGlyphs">당뇨식단형 밀키트</text>
<rect x="1012.5" y="153.5" width="61" height="17" rx="3" fill="#fff" stroke="#6a9a50" stroke-width="1.5"/>
<text x="1043" y="166" text-anchor="middle" fill="#111" font-size="10.5" font-weight="bold">무설탕</text>
<rect x="1078" y="154" width="55" height="16" rx="2" fill="#2f5a22"/>
<text x="1105.5" y="166" text-anchor="middle" fill="#fff" font-size="10.5" font-weight="bold">저칼로리</text>
<rect x="1140" y="154" width="55" height="16" rx="2" fill="#2f5a22"/>
<text x="1167.5" y="166" text-anchor="middle" fill="#fff" font-size="10.5" font-weight="bold">맞춤영양</text>
<g clip-path="url(#foodClip)">
<rect x="1004" y="180" width="205" height="157" fill="#e8d2b2"/>
<path d="M1112,190 Q1112,178 1124,178 L1204,178 L1208,262 Q1160,270 1125,265 Q1112,262 1112,250 Z" fill="#d9ae7c"/>
<path d="M1118,215 Q1122,190 1140,182 L1175,178 L1200,180 Q1206,200 1200,225 Q1190,252 1165,258 Q1140,258 1125,245 Q1116,232 1118,215 Z" fill="#d8c0a8"/>
<g filter="url(#blur1)">
<ellipse cx="1158.0" cy="221.4" rx="3.8" ry="2.3" transform="rotate(154 1158.0 221.4)" fill="#c8a890" opacity="1.00"/>
<ellipse cx="1138.9" cy="237.3" rx="4.5" ry="2.7" transform="rotate(143 1138.9 237.3)" fill="#c8a890" opacity="1.00"/>
<ellipse cx="1131.9" cy="204.7" rx="4.2" ry="2.5" transform="rotate(160 1131.9 204.7)" fill="#e8e0d0" opacity="1.00"/>
<ellipse cx="1171.3" cy="223.7" rx="5.9" ry="3.5" transform="rotate(118 1171.3 223.7)" fill="#f0e8e0" opacity="1.00"/>
<ellipse cx="1169.9" cy="195.2" rx="5.3" ry="3.2" transform="rotate(11 1169.9 195.2)" fill="#8a4a98" opacity="1.00"/>
<ellipse cx="1127.6" cy="242.2" rx="5.1" ry="3.1" transform="rotate(59 1127.6 242.2)" fill="#8a4a98" opacity="1.00"/>
<ellipse cx="1168.1" cy="197.7" rx="4.6" ry="2.7" transform="rotate(90 1168.1 197.7)" fill="#6a3a7a" opacity="1.00"/>
<ellipse cx="1173.4" cy="214.7" rx="3.6" ry="2.2" transform="rotate(99 1173.4 214.7)" fill="#d8d0a0" opacity="1.00"/>
<ellipse cx="1193.0" cy="190.4" rx="3.3" ry="2.0" transform="rotate(41 1193.0 190.4)" fill="#d8d0a0" opacity="1.00"/>
<ellipse cx="1146.1" cy="189.6" rx="3.6" ry="2.2" transform="rotate(152 1146.1 189.6)" fill="#e8e0d0" opacity="1.00"/>
<ellipse cx="1153.2" cy="247.3" rx="2.9" ry="1.7" transform="rotate(167 1153.2 247.3)" fill="#8a4a98" opacity="1.00"/>
<ellipse cx="1128.8" cy="209.4" rx="3.7" ry="2.2" transform="rotate(102 1128.8 209.4)" fill="#f0e8e0" opacity="1.00"/>
<ellipse cx="1139.5" cy="228.9" rx="2.3" ry="1.4" transform="rotate(60 1139.5 228.9)" fill="#a0b060" opacity="1.00"/>
<ellipse cx="1195.4" cy="234.3" rx="2.5" ry="1.5" transform="rotate(127 1195.4 234.3)" fill="#e8e0d0" opacity="1.00"/>
<ellipse cx="1125.8" cy="215.2" rx="2.7" ry="1.6" transform="rotate(101 1125.8 215.2)" fill="#c8a890" opacity="1.00"/>
<ellipse cx="1157.7" cy="197.4" rx="3.7" ry="2.2" transform="rotate(69 1157.7 197.4)" fill="#b890b0" opacity="1.00"/>
<ellipse cx="1153.8" cy="249.4" rx="3.1" ry="1.8" transform="rotate(175 1153.8 249.4)" fill="#8a4a98" opacity="1.00"/>
<ellipse cx="1183.6" cy="204.8" rx="2.8" ry="1.7" transform="rotate(71 1183.6 204.8)" fill="#8a4a98" opacity="1.00"/>
<ellipse cx="1187.4" cy="226.7" rx="2.2" ry="1.3" transform="rotate(26 1187.4 226.7)" fill="#e8e0d0" opacity="1.00"/>
<ellipse cx="1157.2" cy="185.6" rx="5.3" ry="3.2" transform="rotate(70 1157.2 185.6)" fill="#a0b060" opacity="1.00"/>
<ellipse cx="1130.4" cy="198.6" rx="2.1" ry="1.2" transform="rotate(66 1130.4 198.6)" fill="#6a3a7a" opacity="1.00"/>
<ellipse cx="1170.4" cy="193.3" rx="5.3" ry="3.2" transform="rotate(24 1170.4 193.3)" fill="#c8a890" opacity="1.00"/>
<ellipse cx="1153.2" cy="225.8" rx="5.6" ry="3.4" transform="rotate(147 1153.2 225.8)" fill="#d8d0a0" opacity="1.00"/>
<ellipse cx="1143.2" cy="197.3" rx="2.8" ry="1.7" transform="rotate(171 1143.2 197.3)" fill="#9a6aa8" opacity="1.00"/>
<ellipse cx="1189.4" cy="224.2" rx="2.2" ry="1.3" transform="rotate(20 1189.4 224.2)" fill="#f0e8e0" opacity="1.00"/>
<ellipse cx="1162.4" cy="201.6" rx="3.0" ry="1.8" transform="rotate(148 1162.4 201.6)" fill="#f0e8e0" opacity="1.00"/>
<ellipse cx="1168.5" cy="204.1" rx="5.7" ry="3.4" transform="rotate(176 1168.5 204.1)" fill="#b890b0" opacity="1.00"/>
<ellipse cx="1134.2" cy="216.2" rx="3.1" ry="1.9" transform="rotate(165 1134.2 216.2)" fill="#e8e0d0" opacity="1.00"/>
<ellipse cx="1139.9" cy="186.1" rx="3.6" ry="2.2" transform="rotate(45 1139.9 186.1)" fill="#d8d0a0" opacity="1.00"/>
<ellipse cx="1128.4" cy="203.3" rx="4.3" ry="2.6" transform="rotate(24 1128.4 203.3)" fill="#9a6aa8" opacity="1.00"/>
<ellipse cx="1151.4" cy="242.9" rx="4.6" ry="2.8" transform="rotate(124 1151.4 242.9)" fill="#a0b060" opacity="1.00"/>
<ellipse cx="1167.7" cy="194.1" rx="5.7" ry="3.4" transform="rotate(85 1167.7 194.1)" fill="#8a4a98" opacity="1.00"/>
<ellipse cx="1151.1" cy="205.3" rx="2.1" ry="1.3" transform="rotate(115 1151.1 205.3)" fill="#8a4a98" opacity="1.00"/>
<ellipse cx="1160.2" cy="232.5" rx="2.5" ry="1.5" transform="rotate(13 1160.2 232.5)" fill="#a0b060" opacity="1.00"/>
<ellipse cx="1158.1" cy="208.9" rx="5.6" ry="3.4" transform="rotate(133 1158.1 208.9)" fill="#8a4a98" opacity="1.00"/>
<ellipse cx="1176.4" cy="236.6" rx="3.4" ry="2.0" transform="rotate(123 1176.4 236.6)" fill="#a0b060" opacity="1.00"/>
<ellipse cx="1190.8" cy="241.6" rx="5.8" ry="3.5" transform="rotate(5 1190.8 241.6)" fill="#f0e8e0" opacity="1.00"/>
<ellipse cx="1161.5" cy="185.9" rx="3.5" ry="2.1" transform="rotate(2 1161.5 185.9)" fill="#f0e8e0" opacity="1.00"/>
<ellipse cx="1130.3" cy="190.9" rx="6.0" ry="3.6" transform="rotate(158 1130.3 190.9)" fill="#e8e0d0" opacity="1.00"/>
<ellipse cx="1178.2" cy="210.2" rx="3.8" ry="2.3" transform="rotate(151 1178.2 210.2)" fill="#c8a890" opacity="1.00"/>
<ellipse cx="1131.1" cy="233.8" rx="3.2" ry="1.9" transform="rotate(16 1131.1 233.8)" fill="#8a4a98" opacity="1.00"/>
<ellipse cx="1126.6" cy="247.2" rx="4.0" ry="2.4" transform="rotate(111 1126.6 247.2)" fill="#e8e0d0" opacity="1.00"/>
<ellipse cx="1192.2" cy="201.6" rx="3.5" ry="2.1" transform="rotate(26 1192.2 201.6)" fill="#8a4a98" opacity="1.00"/>
<ellipse cx="1169.7" cy="218.7" rx="4.6" ry="2.8" transform="rotate(80 1169.7 218.7)" fill="#a0b060" opacity="1.00"/>
<ellipse cx="1190.1" cy="206.3" rx="2.8" ry="1.7" transform="rotate(78 1190.1 206.3)" fill="#d8d0a0" opacity="1.00"/>
<ellipse cx="1183.8" cy="244.4" rx="3.5" ry="2.1" transform="rotate(105 1183.8 244.4)" fill="#6a3a7a" opacity="1.00"/>
<ellipse cx="1148.1" cy="193.9" rx="3.4" ry="2.0" transform="rotate(161 1148.1 193.9)" fill="#c8a890" opacity="1.00"/>
<ellipse cx="1128.0" cy="189.2" rx="5.3" ry="3.2" transform="rotate(20 1128.0 189.2)" fill="#d8d0a0" opacity="1.00"/>
<ellipse cx="1159.4" cy="245.2" rx="3.5" ry="2.1" transform="rotate(94 1159.4 245.2)" fill="#f0e8e0" opacity="1.00"/>
<ellipse cx="1174.1" cy="231.6" rx="3.3" ry="2.0" transform="rotate(149 1174.1 231.6)" fill="#c8a890" opacity="1.00"/>
<ellipse cx="1145.3" cy="224.5" rx="4.3" ry="2.6" transform="rotate(56 1145.3 224.5)" fill="#d8d0a0" opacity="1.00"/>
<ellipse cx="1182.8" cy="186.2" rx="3.6" ry="2.2" transform="rotate(34 1182.8 186.2)" fill="#b890b0" opacity="1.00"/>
<ellipse cx="1181.2" cy="202.3" rx="5.2" ry="3.1" transform="rotate(177 1181.2 202.3)" fill="#b890b0" opacity="1.00"/>
<ellipse cx="1133.4" cy="192.1" rx="4.6" ry="2.8" transform="rotate(145 1133.4 192.1)" fill="#9a6aa8" opacity="1.00"/>
<ellipse cx="1195.0" cy="229.5" rx="5.3" ry="3.2" transform="rotate(46 1195.0 229.5)" fill="#6a3a7a" opacity="1.00"/>
<ellipse cx="1177.1" cy="234.1" rx="4.9" ry="2.9" transform="rotate(32 1177.1 234.1)" fill="#9a6aa8" opacity="1.00"/>
<ellipse cx="1144.9" cy="207.5" rx="4.0" ry="2.4" transform="rotate(179 1144.9 207.5)" fill="#9a6aa8" opacity="1.00"/>
<ellipse cx="1136.6" cy="240.2" rx="2.3" ry="1.4" transform="rotate(168 1136.6 240.2)" fill="#6a3a7a" opacity="1.00"/>
<ellipse cx="1177.7" cy="193.4" rx="2.8" ry="1.7" transform="rotate(160 1177.7 193.4)" fill="#c8a890" opacity="1.00"/>
<ellipse cx="1125.5" cy="220.8" rx="5.2" ry="3.1" transform="rotate(170 1125.5 220.8)" fill="#9a6aa8" opacity="1.00"/>
</g>
<path d="M1140,250 L1170,182 L1178,184 L1148,254 Z" fill="#e8c890" opacity="0.75"/>
<path d="M1165,255 L1195,190 L1201,193 L1172,257 Z" fill="#c8b060" opacity="0.6"/>
<circle cx="1036" cy="209" r="14" fill="#ece6dc"/><circle cx="1036" cy="209" r="10.5" fill="#8a6040"/>
<circle cx="1085" cy="209" r="15" fill="#ece6dc"/><circle cx="1085" cy="209" r="11.5" fill="#9a2a10"/>
<circle cx="1063" cy="285" r="59" fill="#f0eee8"/>
<circle cx="1063" cy="285" r="59" fill="none" stroke="#d8d4cc" stroke-width="1"/>
<circle cx="1063" cy="287" r="50" fill="#5a7a3a"/>
<g filter="url(#blur1)">
<ellipse cx="1024.5" cy="295.9" rx="3.4" ry="3.2" transform="rotate(144 1024.5 295.9)" fill="#4a5a30" opacity="1.00"/>
<ellipse cx="1078.3" cy="279.1" rx="6.6" ry="6.5" transform="rotate(176 1078.3 279.1)" fill="#4a5a30" opacity="1.00"/>
<ellipse cx="1020.6" cy="277.0" rx="4.0" ry="3.5" transform="rotate(3 1020.6 277.0)" fill="#8a5a8a" opacity="1.00"/>
<ellipse cx="1053.6" cy="286.7" rx="5.2" ry="4.6" transform="rotate(88 1053.6 286.7)" fill="#8a5a8a" opacity="1.00"/>
<ellipse cx="1106.4" cy="294.8" rx="4.7" ry="2.4" transform="rotate(96 1106.4 294.8)" fill="#5a8a38" opacity="1.00"/>
<ellipse cx="1044.8" cy="243.8" rx="3.6" ry="2.7" transform="rotate(130 1044.8 243.8)" fill="#a0c070" opacity="1.00"/>
<ellipse cx="1084.8" cy="252.6" rx="5.3" ry="4.5" transform="rotate(136 1084.8 252.6)" fill="#a0c070" opacity="1.00"/>
<ellipse cx="1029.0" cy="300.6" rx="5.6" ry="4.2" transform="rotate(152 1029.0 300.6)" fill="#6a4a38" opacity="1.00"/>
<ellipse cx="1037.6" cy="276.9" rx="6.8" ry="6.4" transform="rotate(110 1037.6 276.9)" fill="#2a4a20" opacity="1.00"/>
<ellipse cx="1056.8" cy="304.3" rx="5.1" ry="4.0" transform="rotate(36 1056.8 304.3)" fill="#6a4a38" opacity="1.00"/>
<ellipse cx="1029.1" cy="279.2" rx="4.5" ry="3.5" transform="rotate(8 1029.1 279.2)" fill="#d8d0c0" opacity="1.00"/>
<ellipse cx="1094.4" cy="269.1" rx="3.5" ry="1.9" transform="rotate(30 1094.4 269.1)" fill="#d8d0c0" opacity="1.00"/>
<ellipse cx="1093.1" cy="273.0" rx="4.1" ry="3.0" transform="rotate(23 1093.1 273.0)" fill="#2a4a20" opacity="1.00"/>
<ellipse cx="1022.5" cy="304.9" rx="5.1" ry="2.8" transform="rotate(76 1022.5 304.9)" fill="#a0c070" opacity="1.00"/>
<ellipse cx="1087.6" cy="291.6" rx="3.1" ry="1.8" transform="rotate(2 1087.6 291.6)" fill="#3a6a28" opacity="1.00"/>
<ellipse cx="1054.1" cy="327.7" rx="5.5" ry="3.0" transform="rotate(132 1054.1 327.7)" fill="#4a5a30" opacity="1.00"/>
<ellipse cx="1088.1" cy="311.4" rx="5.9" ry="5.0" transform="rotate(158 1088.1 311.4)" fill="#7aa850" opacity="1.00"/>
<ellipse cx="1101.6" cy="292.7" rx="5.5" ry="4.2" transform="rotate(155 1101.6 292.7)" fill="#6a4a38" opacity="1.00"/>
<ellipse cx="1040.6" cy="282.1" rx="6.4" ry="5.2" transform="rotate(154 1040.6 282.1)" fill="#4a5a30" opacity="1.00"/>
<ellipse cx="1067.6" cy="328.9" rx="6.6" ry="4.3" transform="rotate(57 1067.6 328.9)" fill="#8a5a8a" opacity="1.00"/>
<ellipse cx="1083.2" cy="276.3" rx="6.6" ry="3.7" transform="rotate(43 1083.2 276.3)" fill="#4a5a30" opacity="1.00"/>
<ellipse cx="1059.3" cy="262.3" rx="4.7" ry="4.6" transform="rotate(98 1059.3 262.3)" fill="#5a8a38" opacity="1.00"/>
<ellipse cx="1056.9" cy="265.9" rx="3.4" ry="2.7" transform="rotate(64 1056.9 265.9)" fill="#3a6a28" opacity="1.00"/>
<ellipse cx="1075.7" cy="260.4" rx="5.5" ry="3.7" transform="rotate(180 1075.7 260.4)" fill="#6a4a38" opacity="1.00"/>
<ellipse cx="1084.9" cy="248.9" rx="3.4" ry="1.8" transform="rotate(99 1084.9 248.9)" fill="#a0c070" opacity="1.00"/>
<ellipse cx="1026.2" cy="283.6" rx="3.8" ry="2.1" transform="rotate(31 1026.2 283.6)" fill="#6a3a6a" opacity="1.00"/>
<ellipse cx="1077.2" cy="308.8" rx="5.3" ry="3.0" transform="rotate(123 1077.2 308.8)" fill="#5a8a38" opacity="1.00"/>
<ellipse cx="1076.5" cy="294.1" rx="4.9" ry="3.7" transform="rotate(77 1076.5 294.1)" fill="#2a4a20" opacity="1.00"/>
<ellipse cx="1058.5" cy="283.7" rx="6.4" ry="3.8" transform="rotate(82 1058.5 283.7)" fill="#3a6a28" opacity="1.00"/>
<ellipse cx="1060.9" cy="255.9" rx="5.4" ry="3.0" transform="rotate(143 1060.9 255.9)" fill="#4a5a30" opacity="1.00"/>
<ellipse cx="1056.6" cy="299.8" rx="5.3" ry="3.1" transform="rotate(105 1056.6 299.8)" fill="#2a4a20" opacity="1.00"/>
<ellipse cx="1039.9" cy="323.0" rx="6.6" ry="5.8" transform="rotate(140 1039.9 323.0)" fill="#7aa850" opacity="1.00"/>
<ellipse cx="1075.3" cy="258.3" rx="6.5" ry="5.5" transform="rotate(138 1075.3 258.3)" fill="#8a5a8a" opacity="1.00"/>
<ellipse cx="1066.0" cy="255.9" rx="3.3" ry="2.2" transform="rotate(84 1066.0 255.9)" fill="#6a3a6a" opacity="1.00"/>
<ellipse cx="1092.2" cy="288.9" rx="3.2" ry="2.0" transform="rotate(173 1092.2 288.9)" fill="#d8d0c0" opacity="1.00"/>
<ellipse cx="1056.1" cy="308.7" rx="5.3" ry="4.0" transform="rotate(70 1056.1 308.7)" fill="#2a4a20" opacity="1.00"/>
<ellipse cx="1102.3" cy="287.0" rx="6.0" ry="6.0" transform="rotate(4 1102.3 287.0)" fill="#5a8a38" opacity="1.00"/>
<ellipse cx="1031.5" cy="259.1" rx="4.8" ry="3.6" transform="rotate(137 1031.5 259.1)" fill="#7aa850" opacity="1.00"/>
<ellipse cx="1060.0" cy="282.9" rx="4.0" ry="3.8" transform="rotate(99 1060.0 282.9)" fill="#7aa850" opacity="1.00"/>
<ellipse cx="1014.9" cy="284.6" rx="6.4" ry="3.5" transform="rotate(80 1014.9 284.6)" fill="#d8d0c0" opacity="1.00"/>
<ellipse cx="1040.7" cy="258.3" rx="4.5" ry="4.4" transform="rotate(69 1040.7 258.3)" fill="#3a6a28" opacity="1.00"/>
<ellipse cx="1107.5" cy="278.5" rx="5.4" ry="2.9" transform="rotate(170 1107.5 278.5)" fill="#6a4a38" opacity="1.00"/>
<ellipse cx="1031.8" cy="304.0" rx="4.2" ry="3.3" transform="rotate(87 1031.8 304.0)" fill="#d8d0c0" opacity="1.00"/>
<ellipse cx="1057.2" cy="333.9" rx="3.1" ry="2.8" transform="rotate(105 1057.2 333.9)" fill="#7aa850" opacity="1.00"/>
<ellipse cx="1042.0" cy="263.8" rx="3.2" ry="2.1" transform="rotate(72 1042.0 263.8)" fill="#2a4a20" opacity="1.00"/>
<ellipse cx="1026.7" cy="266.5" rx="3.3" ry="3.1" transform="rotate(77 1026.7 266.5)" fill="#8a5a8a" opacity="1.00"/>
<ellipse cx="1015.1" cy="293.8" rx="3.2" ry="1.7" transform="rotate(146 1015.1 293.8)" fill="#4a5a30" opacity="1.00"/>
<ellipse cx="1078.7" cy="277.0" rx="5.4" ry="3.0" transform="rotate(112 1078.7 277.0)" fill="#4a5a30" opacity="1.00"/>
<ellipse cx="1041.7" cy="293.1" rx="4.4" ry="2.6" transform="rotate(65 1041.7 293.1)" fill="#3a6a28" opacity="1.00"/>
<ellipse cx="1083.2" cy="311.4" rx="4.0" ry="3.2" transform="rotate(76 1083.2 311.4)" fill="#d8d0c0" opacity="1.00"/>
<ellipse cx="1069.2" cy="251.9" rx="6.8" ry="5.9" transform="rotate(43 1069.2 251.9)" fill="#6a3a6a" opacity="1.00"/>
<ellipse cx="1097.9" cy="317.4" rx="5.5" ry="3.7" transform="rotate(49 1097.9 317.4)" fill="#6a4a38" opacity="1.00"/>
<ellipse cx="1048.4" cy="253.2" rx="3.8" ry="2.4" transform="rotate(43 1048.4 253.2)" fill="#d8d0c0" opacity="1.00"/>
<ellipse cx="1096.1" cy="276.7" rx="6.5" ry="3.4" transform="rotate(11 1096.1 276.7)" fill="#4a5a30" opacity="1.00"/>
<ellipse cx="1058.8" cy="318.7" rx="3.2" ry="1.9" transform="rotate(50 1058.8 318.7)" fill="#d8d0c0" opacity="1.00"/>
<ellipse cx="1064.7" cy="240.2" rx="5.2" ry="4.2" transform="rotate(67 1064.7 240.2)" fill="#6a3a6a" opacity="1.00"/>
<ellipse cx="1040.7" cy="290.0" rx="5.0" ry="2.8" transform="rotate(157 1040.7 290.0)" fill="#8a5a8a" opacity="1.00"/>
<ellipse cx="1073.6" cy="256.0" rx="6.4" ry="5.6" transform="rotate(80 1073.6 256.0)" fill="#d8d0c0" opacity="1.00"/>
<ellipse cx="1062.5" cy="256.4" rx="4.5" ry="3.7" transform="rotate(178 1062.5 256.4)" fill="#6a3a6a" opacity="1.00"/>
<ellipse cx="1046.4" cy="319.3" rx="4.7" ry="3.2" transform="rotate(17 1046.4 319.3)" fill="#6a3a6a" opacity="1.00"/>
<ellipse cx="1072.7" cy="277.3" rx="4.7" ry="3.7" transform="rotate(147 1072.7 277.3)" fill="#5a8a38" opacity="1.00"/>
<ellipse cx="1019.7" cy="297.1" rx="3.3" ry="2.0" transform="rotate(119 1019.7 297.1)" fill="#3a6a28" opacity="1.00"/>
<ellipse cx="1086.5" cy="300.3" rx="4.1" ry="2.4" transform="rotate(64 1086.5 300.3)" fill="#8a5a8a" opacity="1.00"/>
<ellipse cx="1058.5" cy="257.7" rx="4.3" ry="3.1" transform="rotate(107 1058.5 257.7)" fill="#5a8a38" opacity="1.00"/>
<ellipse cx="1096.2" cy="263.6" rx="4.8" ry="4.3" transform="rotate(55 1096.2 263.6)" fill="#7aa850" opacity="1.00"/>
<ellipse cx="1050.2" cy="315.2" rx="4.0" ry="2.7" transform="rotate(66 1050.2 315.2)" fill="#6a4a38" opacity="1.00"/>
<ellipse cx="1042.9" cy="310.3" rx="6.2" ry="5.4" transform="rotate(66 1042.9 310.3)" fill="#2a4a20" opacity="1.00"/>
<ellipse cx="1048.1" cy="299.3" rx="5.3" ry="3.1" transform="rotate(137 1048.1 299.3)" fill="#d8d0c0" opacity="1.00"/>
<ellipse cx="1082.1" cy="269.3" rx="3.9" ry="2.1" transform="rotate(29 1082.1 269.3)" fill="#3a6a28" opacity="1.00"/>
<ellipse cx="1060.9" cy="294.0" rx="3.3" ry="2.5" transform="rotate(142 1060.9 294.0)" fill="#2a4a20" opacity="1.00"/>
<ellipse cx="1075.1" cy="294.1" rx="6.6" ry="3.6" transform="rotate(114 1075.1 294.1)" fill="#5a8a38" opacity="1.00"/>
<ellipse cx="1089.2" cy="320.3" rx="4.0" ry="2.4" transform="rotate(138 1089.2 320.3)" fill="#2a4a20" opacity="1.00"/>
<ellipse cx="1020.5" cy="281.2" rx="4.4" ry="4.0" transform="rotate(60 1020.5 281.2)" fill="#2a4a20" opacity="1.00"/>
<ellipse cx="1085.4" cy="312.9" rx="5.8" ry="5.6" transform="rotate(74 1085.4 312.9)" fill="#5a8a38" opacity="1.00"/>
<ellipse cx="1081.4" cy="251.5" rx="6.2" ry="5.7" transform="rotate(160 1081.4 251.5)" fill="#3a6a28" opacity="1.00"/>
<ellipse cx="1100.8" cy="276.7" rx="4.4" ry="2.2" transform="rotate(20 1100.8 276.7)" fill="#6a4a38" opacity="1.00"/>
<ellipse cx="1104.6" cy="265.3" rx="6.0" ry="5.9" transform="rotate(68 1104.6 265.3)" fill="#4a5a30" opacity="1.00"/>
<ellipse cx="1074.0" cy="306.3" rx="5.1" ry="3.3" transform="rotate(159 1074.0 306.3)" fill="#2a4a20" opacity="1.00"/>
<ellipse cx="1021.8" cy="294.5" rx="5.6" ry="5.0" transform="rotate(32 1021.8 294.5)" fill="#7aa850" opacity="1.00"/>
<ellipse cx="1093.7" cy="299.7" rx="4.9" ry="4.4" transform="rotate(56 1093.7 299.7)" fill="#d8d0c0" opacity="1.00"/>
<ellipse cx="1072.5" cy="314.8" rx="3.9" ry="3.4" transform="rotate(107 1072.5 314.8)" fill="#d8d0c0" opacity="1.00"/>
<ellipse cx="1066.4" cy="307.8" rx="4.6" ry="4.4" transform="rotate(169 1066.4 307.8)" fill="#7aa850" opacity="1.00"/>
<ellipse cx="1029.7" cy="253.0" rx="4.9" ry="3.1" transform="rotate(160 1029.7 253.0)" fill="#6a4a38" opacity="1.00"/>
<ellipse cx="1087.6" cy="272.3" rx="6.1" ry="3.3" transform="rotate(155 1087.6 272.3)" fill="#6a4a38" opacity="1.00"/>
<ellipse cx="1044.6" cy="300.5" rx="6.2" ry="4.3" transform="rotate(95 1044.6 300.5)" fill="#6a3a6a" opacity="1.00"/>
<ellipse cx="1037.5" cy="284.5" rx="5.6" ry="3.5" transform="rotate(2 1037.5 284.5)" fill="#3a6a28" opacity="1.00"/>
<ellipse cx="1033.6" cy="292.1" rx="5.9" ry="4.7" transform="rotate(28 1033.6 292.1)" fill="#4a5a30" opacity="1.00"/>
<ellipse cx="1078.3" cy="310.2" rx="6.6" ry="6.0" transform="rotate(24 1078.3 310.2)" fill="#7aa850" opacity="1.00"/>
<ellipse cx="1061.0" cy="248.5" rx="5.1" ry="3.0" transform="rotate(139 1061.0 248.5)" fill="#6a4a38" opacity="1.00"/>
<ellipse cx="1107.4" cy="287.4" rx="6.3" ry="3.4" transform="rotate(49 1107.4 287.4)" fill="#6a3a6a" opacity="1.00"/>
<ellipse cx="1059.8" cy="272.1" rx="5.8" ry="3.1" transform="rotate(135 1059.8 272.1)" fill="#a0c070" opacity="1.00"/>
<ellipse cx="1029.4" cy="277.6" rx="6.2" ry="4.4" transform="rotate(165 1029.4 277.6)" fill="#3a6a28" opacity="1.00"/>
<ellipse cx="1100.5" cy="311.1" rx="3.1" ry="2.2" transform="rotate(89 1100.5 311.1)" fill="#4a5a30" opacity="1.00"/>
<ellipse cx="1108.4" cy="271.2" rx="4.2" ry="2.3" transform="rotate(55 1108.4 271.2)" fill="#8a5a8a" opacity="1.00"/>
<ellipse cx="1022.4" cy="295.5" rx="3.3" ry="1.9" transform="rotate(120 1022.4 295.5)" fill="#8a5a8a" opacity="1.00"/>
<ellipse cx="1044.0" cy="249.2" rx="5.6" ry="2.8" transform="rotate(68 1044.0 249.2)" fill="#5a8a38" opacity="1.00"/>
<ellipse cx="1057.1" cy="263.9" rx="3.5" ry="3.1" transform="rotate(154 1057.1 263.9)" fill="#d8d0c0" opacity="1.00"/>
<ellipse cx="1086.3" cy="252.6" rx="3.6" ry="2.9" transform="rotate(169 1086.3 252.6)" fill="#d8d0c0" opacity="1.00"/>
<ellipse cx="1062.9" cy="239.1" rx="5.2" ry="2.8" transform="rotate(34 1062.9 239.1)" fill="#2a4a20" opacity="1.00"/>
<ellipse cx="1051.4" cy="298.4" rx="6.8" ry="5.3" transform="rotate(130 1051.4 298.4)" fill="#7aa850" opacity="1.00"/>
<ellipse cx="1041.1" cy="325.8" rx="3.4" ry="2.8" transform="rotate(24 1041.1 325.8)" fill="#5a8a38" opacity="1.00"/>
<ellipse cx="1048.8" cy="271.8" rx="4.6" ry="4.2" transform="rotate(107 1048.8 271.8)" fill="#4a5a30" opacity="1.00"/>
<ellipse cx="1082.7" cy="299.5" rx="6.9" ry="5.0" transform="rotate(139 1082.7 299.5)" fill="#6a3a6a" opacity="1.00"/>
<ellipse cx="1038.8" cy="324.3" rx="3.6" ry="2.1" transform="rotate(27 1038.8 324.3)" fill="#6a4a38" opacity="1.00"/>
<ellipse cx="1050.7" cy="255.2" rx="5.5" ry="4.7" transform="rotate(110 1050.7 255.2)" fill="#2a4a20" opacity="1.00"/>
<ellipse cx="1045.0" cy="326.6" rx="5.6" ry="4.5" transform="rotate(3 1045.0 326.6)" fill="#4a5a30" opacity="1.00"/>
<ellipse cx="1049.0" cy="312.0" rx="3.4" ry="2.4" transform="rotate(92 1049.0 312.0)" fill="#a0c070" opacity="1.00"/>
<ellipse cx="1073.7" cy="243.8" rx="5.9" ry="3.7" transform="rotate(97 1073.7 243.8)" fill="#d8d0c0" opacity="1.00"/>
<ellipse cx="1055.9" cy="309.6" rx="5.0" ry="2.9" transform="rotate(128 1055.9 309.6)" fill="#d8d0c0" opacity="1.00"/>
<ellipse cx="1098.1" cy="284.1" rx="5.3" ry="2.7" transform="rotate(119 1098.1 284.1)" fill="#4a5a30" opacity="1.00"/>
</g>
<ellipse cx="1047.0" cy="246.0" rx="7.0" ry="8.0" transform="rotate(20 1047.0 246.0)" fill="#f4c818" opacity="1.00"/>
<ellipse cx="1070.0" cy="249.0" rx="9.0" ry="8.0" transform="rotate(-10 1070.0 249.0)" fill="#e02818" opacity="1.00"/>
<ellipse cx="1033.0" cy="257.0" rx="6.0" ry="6.0" transform="rotate(30 1033.0 257.0)" fill="#e02818" opacity="1.00"/>
<ellipse cx="1037.0" cy="264.0" rx="6.0" ry="6.0" transform="rotate(0 1037.0 264.0)" fill="#f2cc20" opacity="1.00"/>
<ellipse cx="1086.0" cy="270.0" rx="10.0" ry="9.0" transform="rotate(15 1086.0 270.0)" fill="#f2cc20" opacity="1.00"/>
<ellipse cx="1045.0" cy="293.0" rx="9.0" ry="8.0" transform="rotate(-20 1045.0 293.0)" fill="#f2cc20" opacity="1.00"/>
<ellipse cx="1065.0" cy="283.0" rx="8.0" ry="10.0" transform="rotate(10 1065.0 283.0)" fill="#d82010" opacity="1.00"/>
<ellipse cx="1052.0" cy="277.0" rx="6.0" ry="7.0" transform="rotate(0 1052.0 277.0)" fill="#d82010" opacity="1.00"/>
<ellipse cx="1055.0" cy="313.0" rx="8.0" ry="9.0" transform="rotate(0 1055.0 313.0)" fill="#e02818" opacity="1.00"/>
<ellipse cx="1085.0" cy="305.0" rx="9.0" ry="8.0" transform="rotate(-15 1085.0 305.0)" fill="#f2cc20" opacity="1.00"/>
<ellipse cx="1040.0" cy="306.0" rx="6.0" ry="6.0" transform="rotate(0 1040.0 306.0)" fill="#7a5a40" opacity="1.00"/>
<ellipse cx="1059.0" cy="262.0" rx="5.0" ry="5.0" transform="rotate(0 1059.0 262.0)" fill="#8a6a50" opacity="1.00"/>
<ellipse cx="1072.0" cy="270.0" rx="6.0" ry="5.0" transform="rotate(0 1072.0 270.0)" fill="#6a5040" opacity="1.00"/>
<ellipse cx="1068.0" cy="325.0" rx="5.0" ry="5.0" transform="rotate(0 1068.0 325.0)" fill="#8a6a50" opacity="1.00"/>
<circle cx="1167" cy="305" r="41" fill="#f2f0ec"/>
<circle cx="1167" cy="307" r="34" fill="#4a3a30"/>
<ellipse cx="1169.0" cy="295.4" rx="2.7" ry="1.9" transform="rotate(125 1169.0 295.4)" fill="#e07030" opacity="1.00"/>
<ellipse cx="1152.3" cy="334.1" rx="2.0" ry="1.4" transform="rotate(159 1152.3 334.1)" fill="#3a6a30" opacity="1.00"/>
<ellipse cx="1140.9" cy="315.1" rx="3.3" ry="2.3" transform="rotate(98 1140.9 315.1)" fill="#5a3a30" opacity="1.00"/>
<ellipse cx="1144.8" cy="298.1" rx="1.8" ry="1.3" transform="rotate(134 1144.8 298.1)" fill="#3a6a30" opacity="1.00"/>
<ellipse cx="1181.8" cy="295.8" rx="1.7" ry="1.2" transform="rotate(148 1181.8 295.8)" fill="#5a3a30" opacity="1.00"/>
<ellipse cx="1159.7" cy="336.4" rx="3.0" ry="2.1" transform="rotate(65 1159.7 336.4)" fill="#5a3a30" opacity="1.00"/>
<ellipse cx="1179.5" cy="328.4" rx="1.7" ry="1.2" transform="rotate(6 1179.5 328.4)" fill="#80a050" opacity="1.00"/>
<ellipse cx="1180.5" cy="335.8" rx="1.8" ry="1.2" transform="rotate(136 1180.5 335.8)" fill="#6a4a40" opacity="1.00"/>
<ellipse cx="1184.5" cy="282.1" rx="2.7" ry="1.9" transform="rotate(145 1184.5 282.1)" fill="#c83020" opacity="1.00"/>
<ellipse cx="1181.2" cy="308.5" rx="1.6" ry="1.1" transform="rotate(95 1181.2 308.5)" fill="#e07030" opacity="1.00"/>
<ellipse cx="1182.0" cy="320.8" rx="2.5" ry="1.8" transform="rotate(47 1182.0 320.8)" fill="#3a6a30" opacity="1.00"/>
<ellipse cx="1150.2" cy="299.4" rx="3.1" ry="2.1" transform="rotate(130 1150.2 299.4)" fill="#6a4a40" opacity="1.00"/>
<ellipse cx="1171.7" cy="287.2" rx="2.7" ry="1.9" transform="rotate(85 1171.7 287.2)" fill="#e07030" opacity="1.00"/>
<ellipse cx="1145.5" cy="320.4" rx="2.6" ry="1.8" transform="rotate(73 1145.5 320.4)" fill="#6a4a40" opacity="1.00"/>
<ellipse cx="1161.1" cy="336.6" rx="3.2" ry="2.2" transform="rotate(154 1161.1 336.6)" fill="#e07030" opacity="1.00"/>
<ellipse cx="1149.3" cy="318.4" rx="1.7" ry="1.2" transform="rotate(169 1149.3 318.4)" fill="#c83020" opacity="1.00"/>
<ellipse cx="1155.8" cy="327.2" rx="3.3" ry="2.3" transform="rotate(58 1155.8 327.2)" fill="#e07030" opacity="1.00"/>
<ellipse cx="1192.7" cy="316.2" rx="3.0" ry="2.1" transform="rotate(108 1192.7 316.2)" fill="#e07030" opacity="1.00"/>
<ellipse cx="1167.2" cy="289.3" rx="3.3" ry="2.3" transform="rotate(44 1167.2 289.3)" fill="#c83020" opacity="1.00"/>
<ellipse cx="1175.8" cy="293.9" rx="2.3" ry="1.6" transform="rotate(9 1175.8 293.9)" fill="#80a050" opacity="1.00"/>
<ellipse cx="1159.1" cy="285.2" rx="2.6" ry="1.8" transform="rotate(118 1159.1 285.2)" fill="#5a3a30" opacity="1.00"/>
<ellipse cx="1194.9" cy="296.0" rx="3.4" ry="2.4" transform="rotate(120 1194.9 296.0)" fill="#6a4a40" opacity="1.00"/>
<ellipse cx="1180.9" cy="291.5" rx="1.8" ry="1.3" transform="rotate(117 1180.9 291.5)" fill="#80a050" opacity="1.00"/>
<ellipse cx="1157.1" cy="312.3" rx="1.7" ry="1.2" transform="rotate(143 1157.1 312.3)" fill="#2a1a18" opacity="1.00"/>
<ellipse cx="1183.7" cy="323.5" rx="1.5" ry="1.1" transform="rotate(44 1183.7 323.5)" fill="#e07030" opacity="1.00"/>
<ellipse cx="1161.4" cy="324.4" rx="2.4" ry="1.7" transform="rotate(81 1161.4 324.4)" fill="#2a1a18" opacity="1.00"/>
<ellipse cx="1155.2" cy="304.7" rx="2.7" ry="1.9" transform="rotate(8 1155.2 304.7)" fill="#6a4a40" opacity="1.00"/>
<ellipse cx="1196.8" cy="312.9" rx="2.1" ry="1.5" transform="rotate(26 1196.8 312.9)" fill="#3a6a30" opacity="1.00"/>
<ellipse cx="1171.7" cy="279.2" rx="1.9" ry="1.3" transform="rotate(155 1171.7 279.2)" fill="#5a3a30" opacity="1.00"/>
<ellipse cx="1164.3" cy="299.7" rx="3.2" ry="2.2" transform="rotate(64 1164.3 299.7)" fill="#3a6a30" opacity="1.00"/>
<ellipse cx="1153.9" cy="309.3" rx="3.5" ry="2.4" transform="rotate(36 1153.9 309.3)" fill="#6a4a40" opacity="1.00"/>
<ellipse cx="1157.6" cy="296.6" rx="2.8" ry="2.0" transform="rotate(55 1157.6 296.6)" fill="#2a1a18" opacity="1.00"/>
<ellipse cx="1179.9" cy="278.4" rx="3.2" ry="2.3" transform="rotate(128 1179.9 278.4)" fill="#3a6a30" opacity="1.00"/>
<ellipse cx="1184.7" cy="327.0" rx="2.4" ry="1.7" transform="rotate(14 1184.7 327.0)" fill="#80a050" opacity="1.00"/>
<ellipse cx="1170.0" cy="324.5" rx="2.9" ry="2.0" transform="rotate(48 1170.0 324.5)" fill="#6a4a40" opacity="1.00"/>
<ellipse cx="1162.8" cy="284.7" rx="3.1" ry="2.2" transform="rotate(67 1162.8 284.7)" fill="#3a6a30" opacity="1.00"/>
<ellipse cx="1151.2" cy="281.4" rx="2.5" ry="1.8" transform="rotate(176 1151.2 281.4)" fill="#c83020" opacity="1.00"/>
<ellipse cx="1177.8" cy="298.7" rx="2.1" ry="1.4" transform="rotate(115 1177.8 298.7)" fill="#5a3a30" opacity="1.00"/>
<ellipse cx="1193.8" cy="324.0" rx="3.3" ry="2.3" transform="rotate(13 1193.8 324.0)" fill="#e07030" opacity="1.00"/>
<ellipse cx="1169.2" cy="305.5" rx="2.1" ry="1.4" transform="rotate(45 1169.2 305.5)" fill="#c83020" opacity="1.00"/>
<ellipse cx="1170.1" cy="298.1" rx="3.5" ry="2.4" transform="rotate(34 1170.1 298.1)" fill="#3a6a30" opacity="1.00"/>
<ellipse cx="1178.8" cy="331.8" rx="1.9" ry="1.3" transform="rotate(161 1178.8 331.8)" fill="#2a1a18" opacity="1.00"/>
<ellipse cx="1172.8" cy="306.5" rx="3.3" ry="2.3" transform="rotate(105 1172.8 306.5)" fill="#e07030" opacity="1.00"/>
<ellipse cx="1197.2" cy="307.5" rx="1.9" ry="1.3" transform="rotate(100 1197.2 307.5)" fill="#2a1a18" opacity="1.00"/>
<ellipse cx="1155.2" cy="291.8" rx="2.5" ry="1.7" transform="rotate(6 1155.2 291.8)" fill="#6a4a40" opacity="1.00"/>
<ellipse cx="1159.5" cy="335.1" rx="2.9" ry="2.0" transform="rotate(94 1159.5 335.1)" fill="#6a4a40" opacity="1.00"/>
<ellipse cx="1179.7" cy="303.0" rx="3.0" ry="2.1" transform="rotate(20 1179.7 303.0)" fill="#80a050" opacity="1.00"/>
<ellipse cx="1143.0" cy="317.3" rx="3.0" ry="2.1" transform="rotate(142 1143.0 317.3)" fill="#c83020" opacity="1.00"/>
<ellipse cx="1171.0" cy="292.0" rx="2.6" ry="1.8" transform="rotate(153 1171.0 292.0)" fill="#e07030" opacity="1.00"/>
<ellipse cx="1154.0" cy="297.1" rx="2.7" ry="1.9" transform="rotate(129 1154.0 297.1)" fill="#5a3a30" opacity="1.00"/>
<ellipse cx="1140.2" cy="293.8" rx="2.2" ry="1.5" transform="rotate(109 1140.2 293.8)" fill="#5a3a30" opacity="1.00"/>
<ellipse cx="1144.7" cy="288.9" rx="2.4" ry="1.7" transform="rotate(47 1144.7 288.9)" fill="#c83020" opacity="1.00"/>
<ellipse cx="1169.6" cy="298.8" rx="2.6" ry="1.8" transform="rotate(98 1169.6 298.8)" fill="#5a3a30" opacity="1.00"/>
<ellipse cx="1171.0" cy="291.9" rx="1.6" ry="1.1" transform="rotate(77 1171.0 291.9)" fill="#5a3a30" opacity="1.00"/>
<ellipse cx="1157.3" cy="279.7" rx="2.6" ry="1.8" transform="rotate(48 1157.3 279.7)" fill="#6a4a40" opacity="1.00"/>
<ellipse cx="1158.9" cy="302.0" rx="2.5" ry="1.8" transform="rotate(68 1158.9 302.0)" fill="#80a050" opacity="1.00"/>
<ellipse cx="1167.3" cy="329.6" rx="3.2" ry="2.2" transform="rotate(142 1167.3 329.6)" fill="#6a4a40" opacity="1.00"/>
<ellipse cx="1186.0" cy="314.7" rx="2.9" ry="2.0" transform="rotate(127 1186.0 314.7)" fill="#3a6a30" opacity="1.00"/>
<ellipse cx="1178.1" cy="304.0" rx="3.0" ry="2.1" transform="rotate(178 1178.1 304.0)" fill="#80a050" opacity="1.00"/>
<ellipse cx="1180.3" cy="324.0" rx="3.5" ry="2.4" transform="rotate(1 1180.3 324.0)" fill="#6a4a40" opacity="1.00"/>
<ellipse cx="1147.4" cy="319.4" rx="2.3" ry="1.6" transform="rotate(54 1147.4 319.4)" fill="#2a1a18" opacity="1.00"/>
<ellipse cx="1159.1" cy="311.0" rx="2.9" ry="2.0" transform="rotate(129 1159.1 311.0)" fill="#2a1a18" opacity="1.00"/>
<ellipse cx="1191.8" cy="303.2" rx="2.0" ry="1.4" transform="rotate(99 1191.8 303.2)" fill="#3a6a30" opacity="1.00"/>
<ellipse cx="1168.1" cy="328.7" rx="2.2" ry="1.6" transform="rotate(61 1168.1 328.7)" fill="#5a3a30" opacity="1.00"/>
<ellipse cx="1191.8" cy="304.1" rx="1.8" ry="1.3" transform="rotate(105 1191.8 304.1)" fill="#2a1a18" opacity="1.00"/>
<ellipse cx="1194.5" cy="306.1" rx="2.9" ry="2.0" transform="rotate(156 1194.5 306.1)" fill="#c83020" opacity="1.00"/>
<ellipse cx="1141.6" cy="290.8" rx="3.2" ry="2.3" transform="rotate(168 1141.6 290.8)" fill="#e07030" opacity="1.00"/>
<ellipse cx="1171.5" cy="326.2" rx="1.9" ry="1.4" transform="rotate(63 1171.5 326.2)" fill="#2a1a18" opacity="1.00"/>
<ellipse cx="1176.6" cy="328.7" rx="2.5" ry="1.7" transform="rotate(72 1176.6 328.7)" fill="#5a3a30" opacity="1.00"/>
<ellipse cx="1143.8" cy="291.5" rx="2.4" ry="1.7" transform="rotate(179 1143.8 291.5)" fill="#e07030" opacity="1.00"/>
<ellipse cx="1154.2" cy="280.2" rx="2.6" ry="1.8" transform="rotate(75 1154.2 280.2)" fill="#5a3a30" opacity="1.00"/>
<ellipse cx="1183.1" cy="311.9" rx="2.7" ry="1.9" transform="rotate(93 1183.1 311.9)" fill="#3a6a30" opacity="1.00"/>
<ellipse cx="1165.8" cy="284.1" rx="3.3" ry="2.3" transform="rotate(129 1165.8 284.1)" fill="#c83020" opacity="1.00"/>
<ellipse cx="1164.8" cy="326.1" rx="3.0" ry="2.1" transform="rotate(140 1164.8 326.1)" fill="#5a3a30" opacity="1.00"/>
<ellipse cx="1177.2" cy="318.9" rx="3.3" ry="2.3" transform="rotate(4 1177.2 318.9)" fill="#80a050" opacity="1.00"/>
<ellipse cx="1158.3" cy="324.8" rx="3.2" ry="2.2" transform="rotate(69 1158.3 324.8)" fill="#2a1a18" opacity="1.00"/>
<ellipse cx="1165.8" cy="337.0" rx="1.6" ry="1.1" transform="rotate(71 1165.8 337.0)" fill="#6a4a40" opacity="1.00"/>
<ellipse cx="1167.5" cy="313.4" rx="2.5" ry="1.8" transform="rotate(23 1167.5 313.4)" fill="#5a3a30" opacity="1.00"/>
<ellipse cx="1172.3" cy="326.8" rx="2.6" ry="1.8" transform="rotate(24 1172.3 326.8)" fill="#e07030" opacity="1.00"/>
<ellipse cx="1162.6" cy="291.3" rx="2.4" ry="1.7" transform="rotate(68 1162.6 291.3)" fill="#6a4a40" opacity="1.00"/>
<rect x="1141" y="190" width="59" height="8" fill="#222" opacity="0.85"/>
<text x="1170.5" y="199" text-anchor="middle" fill="#f4f4f4" font-size="11">300Kcal</text>
<rect x="1032" y="220" width="59" height="8" fill="#222" opacity="0.85"/>
<text x="1061.5" y="229" text-anchor="middle" fill="#f4f4f4" font-size="11">40Kcal</text>
<rect x="1141" y="278" width="59" height="9" fill="#222" opacity="0.85"/>
<text x="1170.5" y="288" text-anchor="middle" fill="#f4f4f4" font-size="11">240Kcal</text>
<rect x="1027" y="323" width="61" height="9" fill="#222" opacity="0.85"/>
<text x="1057.5" y="333" text-anchor="middle" fill="#f4f4f4" font-size="11">170Kcal</text>
<rect x="1006.5" y="181" width="91.5" height="18.5" rx="2" fill="#8a3a10"/>
<text x="1052" y="194.5" text-anchor="middle" fill="#fff" font-size="11" font-weight="bold">AI  식단  분석</text>
</g>
<rect x="1007.5" y="342" width="35" height="68" rx="17.5" fill="#fff" stroke="#2dc0f0" stroke-width="2"/>
<rect x="1010.5" y="345" width="29" height="62" rx="14.5" fill="none" stroke="#2dc0f0" stroke-width="1.2"/>
<circle cx="1025.0" cy="359.5" r="14.5" fill="#2dc0f0"/>
<text x="1025.0" y="364.2" text-anchor="middle" fill="#fff" font-size="12.8" font-weight="bold" textLength="21.9" lengthAdjust="spacingAndGlyphs">750</text>
<text x="1025.0" y="385.5" text-anchor="middle" fill="#2dc0f0" font-size="8.5" font-weight="bold" textLength="26" lengthAdjust="spacingAndGlyphs">Calories</text>
<path d="M1011.5,393.5 L1038.5,393.5 L1038.5,396 Q1037.5,406.5 1025.0,406.5 Q1012.5,406.5 1011.5,396 Z" fill="#2dc0f0"/>
<text x="1025.0" y="404" text-anchor="middle" fill="#fff" font-size="9.5" textLength="15" lengthAdjust="spacingAndGlyphs">25%</text>
<rect x="1048.5" y="342" width="35" height="68" rx="17.5" fill="#fff" stroke="#38d6ea" stroke-width="2"/>
<rect x="1051.5" y="345" width="29" height="62" rx="14.5" fill="none" stroke="#38d6ea" stroke-width="1.2"/>
<circle cx="1066.0" cy="359.5" r="14.5" fill="#38d6ea"/>
<text x="1066.0" y="364.2" text-anchor="middle" fill="#fff" font-size="12.8" font-weight="bold" textLength="24" lengthAdjust="spacingAndGlyphs">0.5g</text>
<text x="1066.0" y="385.5" text-anchor="middle" fill="#38d6ea" font-size="8.5" font-weight="bold" textLength="20" lengthAdjust="spacingAndGlyphs">Salt</text>
<path d="M1052.5,393.5 L1079.5,393.5 L1079.5,396 Q1078.5,406.5 1066.0,406.5 Q1053.5,406.5 1052.5,396 Z" fill="#38d6ea"/>
<text x="1066.0" y="404" text-anchor="middle" fill="#fff" font-size="9.5" textLength="10" lengthAdjust="spacingAndGlyphs">4%</text>
<rect x="1089.5" y="342" width="35" height="68" rx="17.5" fill="#fff" stroke="#2fe0b8" stroke-width="2"/>
<rect x="1092.5" y="345" width="29" height="62" rx="14.5" fill="none" stroke="#2fe0b8" stroke-width="1.2"/>
<circle cx="1107.0" cy="359.5" r="14.5" fill="#2fe0b8"/>
<text x="1107.0" y="364.2" text-anchor="middle" fill="#fff" font-size="12.8" font-weight="bold" textLength="21.9" lengthAdjust="spacingAndGlyphs">15g</text>
<text x="1107.0" y="385.5" text-anchor="middle" fill="#2fe0b8" font-size="8.5" font-weight="bold" textLength="15" lengthAdjust="spacingAndGlyphs">Fat</text>
<path d="M1093.5,393.5 L1120.5,393.5 L1120.5,396 Q1119.5,406.5 1107.0,406.5 Q1094.5,406.5 1093.5,396 Z" fill="#2fe0b8"/>
<text x="1107.0" y="404" text-anchor="middle" fill="#fff" font-size="9.5" textLength="15" lengthAdjust="spacingAndGlyphs">20%</text>
<rect x="1130.5" y="342" width="35" height="68" rx="17.5" fill="#fff" stroke="#26dd78" stroke-width="2"/>
<rect x="1133.5" y="345" width="29" height="62" rx="14.5" fill="none" stroke="#26dd78" stroke-width="1.2"/>
<circle cx="1148.0" cy="359.5" r="14.5" fill="#26dd78"/>
<text x="1148.0" y="364.2" text-anchor="middle" fill="#fff" font-size="12.8" font-weight="bold" textLength="14.6" lengthAdjust="spacingAndGlyphs">7g</text>
<text x="1148.0" y="385.5" text-anchor="middle" fill="#26dd78" font-size="8.5" font-weight="bold" textLength="26" lengthAdjust="spacingAndGlyphs">Saturates</text>
<path d="M1134.5,393.5 L1161.5,393.5 L1161.5,396 Q1160.5,406.5 1148.0,406.5 Q1135.5,406.5 1134.5,396 Z" fill="#26dd78"/>
<text x="1148.0" y="404" text-anchor="middle" fill="#fff" font-size="9.5" textLength="10" lengthAdjust="spacingAndGlyphs">7%</text>
<rect x="1171.5" y="342" width="35" height="68" rx="17.5" fill="#fff" stroke="#86e23e" stroke-width="2"/>
<rect x="1174.5" y="345" width="29" height="62" rx="14.5" fill="none" stroke="#86e23e" stroke-width="1.2"/>
<circle cx="1189.0" cy="359.5" r="14.5" fill="#86e23e"/>
<text x="1189.0" y="364.2" text-anchor="middle" fill="#fff" font-size="12.8" font-weight="bold" textLength="24" lengthAdjust="spacingAndGlyphs">6.8g</text>
<text x="1189.0" y="385.5" text-anchor="middle" fill="#86e23e" font-size="8.5" font-weight="bold" textLength="26" lengthAdjust="spacingAndGlyphs">Sugars</text>
<path d="M1175.5,393.5 L1202.5,393.5 L1202.5,396 Q1201.5,406.5 1189.0,406.5 Q1176.5,406.5 1175.5,396 Z" fill="#86e23e"/>
<text x="1189.0" y="404" text-anchor="middle" fill="#fff" font-size="9.5" textLength="10" lengthAdjust="spacingAndGlyphs">8%</text>
<rect x="1006.5" y="413.5" width="91.5" height="18.5" rx="3" fill="#1ea848"/>
<text x="1052" y="427" text-anchor="middle" fill="#fff" font-size="11.5" font-weight="bold" textLength="66" lengthAdjust="spacingAndGlyphs">나의  혈당  관리</text>
<text x="999" y="440" fill="#555" font-size="4">(mg/dL)</text>
<rect x="1015" y="479.6" width="201.5" height="32.2" fill="#f6d8ca" stroke="#d8a090" stroke-width="0.6"/>
<line x1="1015" y1="441" x2="1015" y2="512" stroke="#bbb" stroke-width="0.8"/>
<line x1="1015" y1="512" x2="1216" y2="512" stroke="#bbb" stroke-width="0.8"/>
<line x1="1062.7" y1="441" x2="1062.7" y2="512" stroke="#aaa" stroke-width="0.6"/>
<line x1="1109.9" y1="441" x2="1109.9" y2="512" stroke="#aaa" stroke-width="0.6"/>
<line x1="1157.7" y1="441" x2="1157.7" y2="512" stroke="#aaa" stroke-width="0.6"/>
<text x="1000" y="448.5" fill="#555" font-size="4.5">220</text>
<text x="1000" y="456.8" fill="#555" font-size="4.5">200</text>
<text x="1000" y="465.2" fill="#555" font-size="4.5">180</text>
<text x="1000" y="473.5" fill="#555" font-size="4.5">160</text>
<text x="1000" y="481.9" fill="#555" font-size="4.5">140</text>
<text x="1000" y="490.2" fill="#555" font-size="4.5">120</text>
<text x="1000" y="498.5" fill="#555" font-size="4.5">100</text>
<text x="1000" y="506.9" fill="#555" font-size="4.5">80</text>
<text x="1014" y="519" fill="#666" font-size="4.5">0</text>
<text x="1062" y="519" fill="#666" font-size="4.5">6</text>
<text x="1108" y="519" fill="#666" font-size="4.5">12</text>
<text x="1156" y="519" fill="#666" font-size="4.5">18</text>
<text x="1203" y="519" fill="#666" font-size="4.5">24시간</text>
<polyline points="1015.0,459.5 1019.8,461.2 1026.4,459.5 1034.0,461.6 1041.6,460.3 1049.2,462.9 1054.9,458.7 1060.6,462.9 1068.2,457.0 1074.8,458.3 1081.5,450.3 1091.0,443.7 1098.6,445.3 1106.2,452.0 1114.8,450.3 1121.4,446.2 1127.1,449.1 1132.8,447.8 1140.4,449.9 1148.0,450.3 1157.5,452.8 1165.1,453.7 1174.6,447.8 1182.2,444.5 1189.8,447.8 1195.5,443.7 1203.1,449.1 1210.7,453.3 1216.4,455.3" fill="none" stroke="#aaa" stroke-width="1.1"/>
<polyline points="1015.0,493.7 1020.7,497.9 1026.4,494.6 1034.0,495.4 1043.5,492.9 1053.0,495.4 1060.6,496.6 1064.4,496.2 1070.1,476.2 1075.8,447.8 1087.2,484.5 1091.0,482.5 1102.4,492.1 1110.0,490.8 1117.6,492.9 1123.3,479.5 1129.0,472.0 1134.7,464.5 1142.3,484.5 1148.0,490.8 1157.5,493.7 1167.0,495.0 1176.5,492.9 1182.2,486.2 1186.0,467.9 1191.7,482.5 1201.2,489.5 1210.7,492.1 1216.4,493.7" fill="none" stroke="#c05a4a" stroke-width="1.5"/>
<polyline points="1015.0,497.1 1024.5,498.7 1034.0,497.9 1043.5,497.1 1053.0,497.9 1064.4,498.7 1070.1,493.7 1075.8,487.0 1087.2,492.1 1100.5,491.2 1110.0,492.9 1121.4,493.7 1129.0,489.5 1138.5,492.9 1148.0,497.1 1157.5,497.9 1171.8,497.1 1182.2,494.6 1187.9,488.7 1195.5,492.1 1205.0,494.6 1216.4,497.9" fill="none" stroke="#e0a090" stroke-width="1.1"/>
<text x="1023" y="464" fill="#333" font-size="4">정상인</text>
<text x="1023" y="490" fill="#b04030" font-size="4">혈당 스파이크</text>
<text x="1023" y="503" fill="#333" font-size="4">혈당</text>
<line x1="1003" y1="526.5" x2="1217" y2="526.5" stroke="#f8c010" stroke-width="3"/>
<line x1="1039" y1="526.5" x2="1175" y2="526.5" stroke="#1aaa40" stroke-width="4"/>
<circle cx="1060.3" cy="526.5" r="5" fill="#fff" stroke="#111" stroke-width="1.6"/>
<circle cx="1122.8" cy="526.5" r="5" fill="#fff" stroke="#111" stroke-width="1.6"/>
<text x="1043" y="543" fill="#444" font-size="10.5" textLength="37" lengthAdjust="spacingAndGlyphs">공복혈당</text>
<text x="1061.5" y="554.5" text-anchor="middle" fill="#111" font-size="10" font-weight="bold">103</text>
<text x="1103.5" y="543" fill="#444" font-size="10.5" textLength="48" lengthAdjust="spacingAndGlyphs">식후 <tspan font-weight="bold" fill="#111">2</tspan>시간</text>
<text x="1127" y="554.5" text-anchor="middle" fill="#111" font-size="10" font-weight="bold">178</text>
<text x="78.0" y="231.7" font-size="25.30" font-weight="bold" fill="#fff" textLength="203.7" lengthAdjust="spacingAndGlyphs">밀키트 공정 플랫폼</text>
<text x="61.7" y="270.1" font-size="20.50" font-weight="normal" fill="#fff" stroke="#fff" stroke-width="0.55" textLength="236.6" lengthAdjust="spacingAndGlyphs">(개인형 밀키트 최종 목표)</text>
<text x="74.9" y="386.7" font-size="25.30" font-weight="bold" fill="#fff" textLength="210.0" lengthAdjust="spacingAndGlyphs">최적 공급 AI 솔루션</text>
<text x="86.5" y="424.7" font-size="20.50" font-weight="normal" fill="#fff" stroke="#fff" stroke-width="0.55" textLength="188.2" lengthAdjust="spacingAndGlyphs">(Almighty Solution)</text>
<text x="90.8" y="536.1" font-size="25.30" font-weight="bold" fill="#fff" textLength="179.2" lengthAdjust="spacingAndGlyphs">농산물 생산 정보</text>
<text x="98.0" y="574.1" font-size="20.50" font-weight="normal" fill="#fff" stroke="#fff" stroke-width="0.55" textLength="165.6" lengthAdjust="spacingAndGlyphs">(농산물 Big Data)</text>
<text x="448.8" y="260.9" font-size="20.60" font-weight="normal" fill="#fff" stroke="#fff" stroke-width="0.55" textLength="84.7" lengthAdjust="spacingAndGlyphs">병증 개선</text>
<text x="449.6" y="284.9" font-size="20.60" font-weight="normal" fill="#fff" stroke="#fff" stroke-width="0.55" textLength="105.0" lengthAdjust="spacingAndGlyphs">정성적 분석</text>
<text x="589.2" y="265.4" font-size="20.60" font-weight="normal" fill="#fff" stroke="#fff" stroke-width="0.55" textLength="142.6" lengthAdjust="spacingAndGlyphs">임상학적 체험자</text>
<text x="588.6" y="287.2" font-size="20.60" font-weight="normal" fill="#fff" stroke="#fff" stroke-width="0.55" textLength="126.1" lengthAdjust="spacingAndGlyphs">빅데이터 분석</text>
<text x="450.5" y="329.8" font-size="20.60" font-weight="normal" fill="#fff" stroke="#fff" stroke-width="0.55" textLength="86.5" lengthAdjust="spacingAndGlyphs">병증 개선</text>
<text x="451.3" y="354.1" font-size="20.60" font-weight="normal" fill="#fff" stroke="#fff" stroke-width="0.55" textLength="105.7" lengthAdjust="spacingAndGlyphs">정량적 분석</text>
<text x="599.2" y="329.8" font-size="20.60" font-weight="normal" fill="#fff" stroke="#fff" stroke-width="0.55" textLength="78.5" lengthAdjust="spacingAndGlyphs">병증 완화</text>
<text x="599.8" y="354.1" font-size="20.60" font-weight="normal" fill="#fff" stroke="#fff" stroke-width="0.55" textLength="124.9" lengthAdjust="spacingAndGlyphs">트래킹 시스템</text>
<text x="451.1" y="411.9" font-size="20.60" font-weight="normal" fill="#1ea8e2" stroke="#1ea8e2" stroke-width="0.55" textLength="104.4" lengthAdjust="spacingAndGlyphs">최적 농산물</text>
<text x="451.1" y="434.9" font-size="20.60" font-weight="normal" fill="#1ea8e2" stroke="#1ea8e2" stroke-width="0.55" textLength="92.7" lengthAdjust="spacingAndGlyphs">구성(추천)</text>
<text x="609.0" y="413.8" font-size="20.60" font-weight="bold" fill="#f4f000" textLength="82.2" lengthAdjust="spacingAndGlyphs">Machine</text>
<text x="608.9" y="439.1" font-size="20.60" font-weight="bold" fill="#f4f000" textLength="88.0" lengthAdjust="spacingAndGlyphs">Learning</text>
<text x="455.8" y="481.1" font-size="20.60" font-weight="normal" fill="#1ea8e2" stroke="#1ea8e2" stroke-width="0.55" textLength="71.4" lengthAdjust="spacingAndGlyphs">BIGFOS</text>
<text x="456.5" y="501.8" font-size="20.60" font-weight="normal" fill="#1ea8e2" stroke="#1ea8e2" stroke-width="0.55" textLength="84.0" lengthAdjust="spacingAndGlyphs">시세 예측</text>
<text x="605.6" y="479.8" font-size="20.60" font-weight="normal" fill="#1ea8e2" stroke="#1ea8e2" stroke-width="0.55" textLength="104.4" lengthAdjust="spacingAndGlyphs">적정량 산정</text>
<text x="606.1" y="505.9" font-size="20.60" font-weight="normal" fill="#1ea8e2" stroke="#1ea8e2" stroke-width="0.55" textLength="90.9" lengthAdjust="spacingAndGlyphs">algorithm</text>
<text x="449.6" y="575.9" font-size="20.60" font-weight="normal" fill="#fff" stroke="#fff" stroke-width="0.55" textLength="106.2" lengthAdjust="spacingAndGlyphs">농산물 가격</text>
<text x="449.4" y="600.1" font-size="20.60" font-weight="normal" fill="#fff" stroke="#fff" stroke-width="0.55" textLength="90.8" lengthAdjust="spacingAndGlyphs">BIG DATA</text>
<text x="612.4" y="578.2" font-size="20.60" font-weight="normal" fill="#fff" stroke="#fff" stroke-width="0.55" textLength="59.5" lengthAdjust="spacingAndGlyphs">농산물</text>
<text x="612.4" y="600.0" font-size="20.60" font-weight="normal" fill="#fff" stroke="#fff" stroke-width="0.55" textLength="105.5" lengthAdjust="spacingAndGlyphs">유통망 정보</text>
<text x="454.7" y="641.5" font-size="20.60" font-weight="normal" fill="#fff" stroke="#fff" stroke-width="0.55" textLength="59.5" lengthAdjust="spacingAndGlyphs">도소매</text>
<text x="454.7" y="664.5" font-size="20.60" font-weight="normal" fill="#fff" stroke="#fff" stroke-width="0.55" textLength="98.7" lengthAdjust="spacingAndGlyphs">공공데이터</text>
<text x="611.8" y="640.2" font-size="20.60" font-weight="normal" fill="#fff" stroke="#fff" stroke-width="0.55" textLength="99.4" lengthAdjust="spacingAndGlyphs">환경 / 기후</text>
<text x="611.8" y="664.5" font-size="20.60" font-weight="normal" fill="#fff" stroke="#fff" stroke-width="0.55" textLength="40.5" lengthAdjust="spacingAndGlyphs">정보</text>
<text x="821.2" y="213.1" font-size="24.40" font-weight="normal" fill="#2c3e5c" stroke="#2c3e5c" stroke-width="0.55" textLength="100.4" lengthAdjust="spacingAndGlyphs">개인화 된</text>
<text x="819.5" y="241.9" font-size="24.40" font-weight="normal" fill="#2c3e5c" stroke="#2c3e5c" stroke-width="0.55" textLength="126.5" lengthAdjust="spacingAndGlyphs">밀키트 제공</text>
<text x="831.7" y="346.9" font-size="24.40" font-weight="normal" fill="#ff0000" stroke="#ff0000" stroke-width="0.55" textLength="118.7" lengthAdjust="spacingAndGlyphs">USER 경험</text>
<text x="832.4" y="376.3" font-size="24.40" font-weight="normal" fill="#ff0000" stroke="#ff0000" stroke-width="0.55" textLength="72.0" lengthAdjust="spacingAndGlyphs">피드백</text>
<text x="929.3" y="634.0" font-size="23.20" font-weight="bold" fill="#111" textLength="344.5" lengthAdjust="spacingAndGlyphs">개인형 / 맞춤형 밀키트 (Mealkit)</text>
<text x="922.8" y="674.0" font-size="23.20" font-weight="bold" fill="#111" textLength="356.4" lengthAdjust="spacingAndGlyphs">최적 농산물 공급을 위한 프로세스</text>
<text x="1004.4" y="36.4" font-size="21.52" font-weight="normal" fill="#fff" stroke="#fff" stroke-width="0.8" textLength="197.3" lengthAdjust="spacingAndGlyphs">맞춤밀키트 주문 APP</text>
</svg>
</body></html>
